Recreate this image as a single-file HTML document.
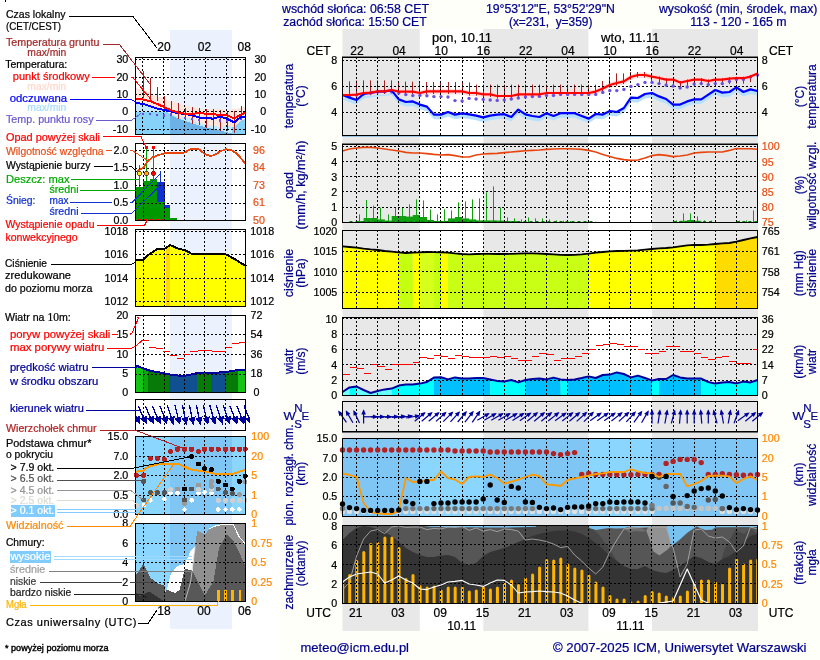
<!DOCTYPE html>
<html lang="pl"><head><meta charset="utf-8"><title>Meteogram UM</title>
<style>
html,body{margin:0;padding:0;background:#fffffa;}
body{width:820px;height:660px;overflow:hidden;}
svg{display:block;font-family:'Liberation Sans', sans-serif;}
text{stroke-width:0.22px;}
</style></head><body>
<svg width="820" height="660" viewBox="0 0 820 660">
<rect x="0" y="0" width="820" height="660" fill="#fffffa"/>
<rect x="342.5" y="29" width="77.4" height="602" fill="#e8e8e8" />
<rect x="483.2" y="29" width="105.5" height="602" fill="#e8e8e8" />
<rect x="652" y="29" width="106" height="602" fill="#e8e8e8" />
<rect x="419.9" y="29" width="63.3" height="602" fill="#ffffff" />
<rect x="588.7" y="29" width="63.3" height="602" fill="#ffffff" />
<text x="355.5" y="13.4" font-size="12" fill="#00008b" stroke="#00008b" text-anchor="middle" textLength="147" lengthAdjust="spacingAndGlyphs" >wschód słońca: 06:58 CET</text>
<text x="355" y="26.4" font-size="12" fill="#00008b" stroke="#00008b" text-anchor="middle" textLength="143.5" lengthAdjust="spacingAndGlyphs" >zachód słońca: 15:50 CET</text>
<text x="550.4" y="13.4" font-size="12" fill="#00008b" stroke="#00008b" text-anchor="middle" textLength="129" lengthAdjust="spacingAndGlyphs" >19°53'12"E, 53°52'29"N</text>
<text x="550.7" y="26.4" font-size="12" fill="#00008b" stroke="#00008b" text-anchor="middle" textLength="83.5" lengthAdjust="spacingAndGlyphs" xml:space="preserve">(x=231,  y=359)</text>
<text x="738.2" y="13.4" font-size="12" fill="#00008b" stroke="#00008b" text-anchor="middle" textLength="158.5" lengthAdjust="spacingAndGlyphs" >wysokość (min, środek, max)</text>
<text x="738.4" y="26.4" font-size="12" fill="#00008b" stroke="#00008b" text-anchor="middle" textLength="96.5" lengthAdjust="spacingAndGlyphs" >113 - 120 - 165 m</text>
<text x="462" y="42" font-size="12" fill="#000" stroke="#000" text-anchor="middle" textLength="60" lengthAdjust="spacingAndGlyphs" >pon, 10.11</text>
<text x="630.3" y="42" font-size="12" fill="#000" stroke="#000" text-anchor="middle" textLength="58.5" lengthAdjust="spacingAndGlyphs" >wto, 11.11</text>
<text x="356.9" y="55" font-size="12" fill="#000" stroke="#000" text-anchor="middle" >22</text>
<text x="399.1" y="55" font-size="12" fill="#000" stroke="#000" text-anchor="middle" >04</text>
<text x="441.3" y="55" font-size="12" fill="#000" stroke="#000" text-anchor="middle" >10</text>
<text x="483.5" y="55" font-size="12" fill="#000" stroke="#000" text-anchor="middle" >16</text>
<text x="525.7" y="55" font-size="12" fill="#000" stroke="#000" text-anchor="middle" >22</text>
<text x="567.9" y="55" font-size="12" fill="#000" stroke="#000" text-anchor="middle" >04</text>
<text x="610.1" y="55" font-size="12" fill="#000" stroke="#000" text-anchor="middle" >10</text>
<text x="652.3" y="55" font-size="12" fill="#000" stroke="#000" text-anchor="middle" >16</text>
<text x="694.5" y="55" font-size="12" fill="#000" stroke="#000" text-anchor="middle" >22</text>
<text x="736.7" y="55" font-size="12" fill="#000" stroke="#000" text-anchor="middle" >04</text>
<text x="355.8" y="617" font-size="12" fill="#000" stroke="#000" text-anchor="middle" >21</text>
<text x="398" y="617" font-size="12" fill="#000" stroke="#000" text-anchor="middle" >03</text>
<text x="440.2" y="617" font-size="12" fill="#000" stroke="#000" text-anchor="middle" >09</text>
<text x="482.4" y="617" font-size="12" fill="#000" stroke="#000" text-anchor="middle" >15</text>
<text x="524.6" y="617" font-size="12" fill="#000" stroke="#000" text-anchor="middle" >21</text>
<text x="566.8" y="617" font-size="12" fill="#000" stroke="#000" text-anchor="middle" >03</text>
<text x="609" y="617" font-size="12" fill="#000" stroke="#000" text-anchor="middle" >09</text>
<text x="651.2" y="617" font-size="12" fill="#000" stroke="#000" text-anchor="middle" >15</text>
<text x="693.4" y="617" font-size="12" fill="#000" stroke="#000" text-anchor="middle" >21</text>
<text x="735.6" y="617" font-size="12" fill="#000" stroke="#000" text-anchor="middle" >03</text>
<text x="306.5" y="55" font-size="12" fill="#000" stroke="#000" text-anchor="start" >CET</text>
<text x="769" y="55" font-size="12" fill="#000" stroke="#000" text-anchor="start" >CET</text>
<text x="306.3" y="617" font-size="12" fill="#000" stroke="#000" text-anchor="start" >UTC</text>
<text x="768.8" y="617" font-size="12" fill="#000" stroke="#000" text-anchor="start" >UTC</text>
<text x="461.7" y="630" font-size="12" fill="#000" stroke="#000" text-anchor="middle" >10.11</text>
<text x="630.4" y="630" font-size="12" fill="#000" stroke="#000" text-anchor="middle" >11.11</text>
<text x="300.5" y="652" font-size="13" fill="#00008b" stroke="#00008b" text-anchor="start" textLength="108.5" lengthAdjust="spacingAndGlyphs" >meteo@icm.edu.pl</text>
<text x="553" y="652" font-size="13" fill="#00008b" stroke="#00008b" text-anchor="start" textLength="253.5" lengthAdjust="spacingAndGlyphs" >© 2007-2025 ICM, Uniwersytet Warszawski</text>
<polygon points="342.5,93.8 349.5,96.4 356.6,98.8 363.6,92.8 370.6,91.8 377.7,90.4 384.7,90.2 391.7,89.2 398.8,98.2 405.8,100.8 412.8,100.2 419.9,103.4 426.9,105.4 433.9,113.4 441,113.4 448,110.8 455,113.4 462.1,112.2 469.1,113.2 476.1,114.4 483.2,116.2 490.2,114.4 497.2,113.4 504.3,113 511.3,115.8 518.3,108.4 525.4,113.2 532.4,114.8 539.4,115.8 546.5,112 553.5,114.8 560.6,112 567.6,112 574.6,112 581.7,114.8 588.7,117.4 595.7,112.8 602.8,113.4 609.8,109.8 616.8,110.8 623.9,106.8 630.9,96.4 637.9,96.8 645,92.8 652,91.8 659,95.2 666.1,97.8 673.1,103.4 680.1,103.4 687.2,100.2 694.2,98.2 701.2,98.2 708.3,93.4 715.3,88.8 722.3,91.4 729.4,90.8 736.4,86.2 743.4,90.8 750.5,88.2 757.5,89.8 757.5,95.6 750.5,94 743.4,96.6 736.4,92 729.4,96.6 722.3,97.2 715.3,94.6 708.3,99.2 701.2,104 694.2,104 687.2,106 680.1,109.2 673.1,109.2 666.1,103.6 659,101 652,97.6 645,98.6 637.9,102.6 630.9,102.2 623.9,112.6 616.8,116.6 609.8,115.6 602.8,119.2 595.7,118.6 588.7,123.2 581.7,120.6 574.6,117.8 567.6,117.8 560.6,117.8 553.5,120.6 546.5,117.8 539.4,121.6 532.4,120.6 525.4,119 518.3,114.2 511.3,121.6 504.3,118.8 497.2,119.2 490.2,120.2 483.2,122 476.1,120.2 469.1,119 462.1,118 455,119.2 448,116.6 441,119.2 433.9,119.2 426.9,111.2 419.9,109.2 412.8,106 405.8,106.6 398.8,104 391.7,95 384.7,96 377.7,96.2 370.6,97.6 363.6,98.6 356.6,104.6 349.5,102.2 342.5,99.6" fill="#b6e0ff" />
<polygon points="342.5,92.6 349.5,92.6 356.6,92.2 363.6,90.6 370.6,90.2 377.7,89 384.7,89 391.7,87.6 398.8,89.2 405.8,89.2 412.8,89.2 419.9,90.6 426.9,89 433.9,89 441,89 448,89 455,89 462.1,89 469.1,90.6 476.1,90.6 483.2,92 490.2,92 497.2,93.6 504.3,93.6 511.3,93.6 518.3,92 525.4,92 532.4,92 539.4,92 546.5,90.6 553.5,90.6 560.6,90.6 567.6,90.6 574.6,90.6 581.7,90.6 588.7,90.6 595.7,89.2 602.8,86 609.8,82.6 616.8,80.6 623.9,79 630.9,74.6 637.9,72.6 645,72.6 652,74.2 659,75.6 666.1,77.2 673.1,77.2 680.1,80.2 687.2,78.6 694.2,77.2 701.2,77.2 708.3,78.6 715.3,77.2 722.3,77.2 729.4,76.2 736.4,75.8 743.4,75.8 750.5,74.2 757.5,71.2 757.5,76.6 750.5,79.6 743.4,81.2 736.4,81.2 729.4,81.6 722.3,82.6 715.3,82.6 708.3,84 701.2,82.6 694.2,82.6 687.2,84 680.1,85.6 673.1,82.6 666.1,82.6 659,81 652,79.6 645,78 637.9,78 630.9,80 623.9,84.4 616.8,86 609.8,88 602.8,91.4 595.7,94.6 588.7,96 581.7,96 574.6,96 567.6,96 560.6,96 553.5,96 546.5,96 539.4,97.4 532.4,97.4 525.4,97.4 518.3,97.4 511.3,99 504.3,99 497.2,99 490.2,97.4 483.2,97.4 476.1,96 469.1,96 462.1,94.4 455,94.4 448,94.4 441,94.4 433.9,94.4 426.9,94.4 419.9,96 412.8,94.6 405.8,94.6 398.8,94.6 391.7,93 384.7,94.4 377.7,94.4 370.6,95.6 363.6,96 356.6,97.6 349.5,98 342.5,98" fill="#ffdcdc" />
<path d="M349.5 81.4V97.6M356.5 80.6V97.2M363.5 80.4V95.6M370.5 80.4V95.2M377.5 80.4V94M384.5 80.4V94M391.5 80.4V92.6M398.5 81V94.2M405.5 81.6V94.2M412.5 81.6V94.2M419.5 82V95.6M426.5 82V94M433.5 82V94M440.5 82V94M448.5 82V94M455.5 82V94M462.5 82V94M469.5 82.4V95.6M476.5 84.6V95.6M483.5 84.6V97M490.5 84.6V97M497.5 84.6V98.6M504.5 84.6V98.6M511.5 84.6V98.6M518.5 84.6V97M525.5 84.6V97M532.5 84.6V97M539.5 84.6V97M546.5 84.6V95.6M553.5 84.6V95.6M560.5 84.6V95.6M567.5 84.6V95.6M574.5 84.6V95.6M581.5 84.6V95.6M588.5 84.6V95.6M595.5 84.6V94.2M602.5 81V91M609.5 76.6V87.6M616.5 73.4V85.6M623.5 73.4V84M630.5 72V79.6M637.5 72V77.6M644.5 72V77.6M651.5 75.1V82.1M659.5 76.5V83.5M666.5 78.1V85.1M673.5 78.1V85.1M680.5 81.1V88.1M687.5 79.5V86.5M694.5 78.1V85.1M701.5 78.1V85.1M708.5 79.5V86.5M715.5 78.1V85.1M722.5 78.1V85.1M729.5 77.1V84.1M736.5 76.7V83.7M743.5 76.7V83.7M750.5 75.1V82.1" stroke="#a52020" stroke-width="1" fill="none"/>
<path d="M356.5 57V135M377.5 57V135M398.5 57V135M419.5 57V135M440.5 57V135M462.5 57V135M483.5 57V135M504.5 57V135M525.5 57V135M546.5 57V135M567.5 57V135M588.5 57V135M609.5 57V135M630.5 57V135M651.5 57V135M673.5 57V135M694.5 57V135M715.5 57V135M736.5 57V135M342 60.5H757M342 86.5H757M342 112.5H757" stroke="#000" stroke-width="1" stroke-dasharray="2 2" fill="none" shape-rendering="crispEdges"/>
<circle cx="349.5" cy="96" r="1.7" fill="#6a4fe0"/>
<circle cx="356.6" cy="95" r="1.7" fill="#6a4fe0"/>
<circle cx="363.6" cy="94" r="1.7" fill="#6a4fe0"/>
<circle cx="370.6" cy="93" r="1.7" fill="#6a4fe0"/>
<circle cx="377.7" cy="92" r="1.7" fill="#6a4fe0"/>
<circle cx="384.7" cy="91.6" r="1.7" fill="#6a4fe0"/>
<circle cx="391.7" cy="92" r="1.7" fill="#6a4fe0"/>
<circle cx="398.8" cy="93" r="1.7" fill="#6a4fe0"/>
<circle cx="405.8" cy="94.6" r="1.7" fill="#6a4fe0"/>
<circle cx="412.8" cy="95.6" r="1.7" fill="#6a4fe0"/>
<circle cx="419.9" cy="95.4" r="1.7" fill="#6a4fe0"/>
<circle cx="426.9" cy="95.8" r="1.7" fill="#6a4fe0"/>
<circle cx="433.9" cy="96.6" r="1.7" fill="#6a4fe0"/>
<circle cx="441" cy="96.6" r="1.7" fill="#6a4fe0"/>
<circle cx="448" cy="97" r="1.7" fill="#6a4fe0"/>
<circle cx="455" cy="100.6" r="1.7" fill="#6a4fe0"/>
<circle cx="462.1" cy="101" r="1.7" fill="#6a4fe0"/>
<circle cx="469.1" cy="98.4" r="1.7" fill="#6a4fe0"/>
<circle cx="476.1" cy="99" r="1.7" fill="#6a4fe0"/>
<circle cx="483.2" cy="99.4" r="1.7" fill="#6a4fe0"/>
<circle cx="490.2" cy="100" r="1.7" fill="#6a4fe0"/>
<circle cx="497.2" cy="100.4" r="1.7" fill="#6a4fe0"/>
<circle cx="504.3" cy="100" r="1.7" fill="#6a4fe0"/>
<circle cx="511.3" cy="99" r="1.7" fill="#6a4fe0"/>
<circle cx="518.3" cy="98" r="1.7" fill="#6a4fe0"/>
<circle cx="525.4" cy="97" r="1.7" fill="#6a4fe0"/>
<circle cx="532.4" cy="96.6" r="1.7" fill="#6a4fe0"/>
<circle cx="539.4" cy="96.4" r="1.7" fill="#6a4fe0"/>
<circle cx="546.5" cy="95.4" r="1.7" fill="#6a4fe0"/>
<circle cx="553.5" cy="95.4" r="1.7" fill="#6a4fe0"/>
<circle cx="560.6" cy="94.4" r="1.7" fill="#6a4fe0"/>
<circle cx="567.6" cy="94.4" r="1.7" fill="#6a4fe0"/>
<circle cx="574.6" cy="94.4" r="1.7" fill="#6a4fe0"/>
<circle cx="581.7" cy="94.4" r="1.7" fill="#6a4fe0"/>
<circle cx="588.7" cy="94.4" r="1.7" fill="#6a4fe0"/>
<circle cx="595.7" cy="94.4" r="1.7" fill="#6a4fe0"/>
<circle cx="602.8" cy="92.4" r="1.7" fill="#6a4fe0"/>
<circle cx="609.8" cy="90.6" r="1.7" fill="#6a4fe0"/>
<circle cx="616.8" cy="90.6" r="1.7" fill="#6a4fe0"/>
<circle cx="623.9" cy="89.4" r="1.7" fill="#6a4fe0"/>
<circle cx="630.9" cy="86.4" r="1.7" fill="#6a4fe0"/>
<circle cx="637.9" cy="84.6" r="1.7" fill="#6a4fe0"/>
<circle cx="645" cy="82.4" r="1.7" fill="#6a4fe0"/>
<circle cx="652" cy="82.4" r="1.7" fill="#6a4fe0"/>
<circle cx="659" cy="83.6" r="1.7" fill="#6a4fe0"/>
<circle cx="666.1" cy="85" r="1.7" fill="#6a4fe0"/>
<circle cx="673.1" cy="86" r="1.7" fill="#6a4fe0"/>
<circle cx="680.1" cy="88" r="1.7" fill="#6a4fe0"/>
<circle cx="687.2" cy="87" r="1.7" fill="#6a4fe0"/>
<circle cx="694.2" cy="84" r="1.7" fill="#6a4fe0"/>
<circle cx="701.2" cy="83.6" r="1.7" fill="#6a4fe0"/>
<circle cx="708.3" cy="84.6" r="1.7" fill="#6a4fe0"/>
<circle cx="715.3" cy="83.6" r="1.7" fill="#6a4fe0"/>
<circle cx="722.3" cy="83.6" r="1.7" fill="#6a4fe0"/>
<circle cx="729.4" cy="81.4" r="1.7" fill="#6a4fe0"/>
<circle cx="736.4" cy="79.4" r="1.7" fill="#6a4fe0"/>
<circle cx="743.4" cy="79.4" r="1.7" fill="#6a4fe0"/>
<circle cx="750.5" cy="77" r="1.7" fill="#6a4fe0"/>
<circle cx="757.5" cy="75" r="1.7" fill="#6a4fe0"/>
<polyline points="342.5,95 349.5,97.6 356.6,100 363.6,94 370.6,93 377.7,91.6 384.7,91.4 391.7,90.4 398.8,99.4 405.8,102 412.8,101.4 419.9,104.6 426.9,106.6 433.9,114.6 441,114.6 448,112 455,114.6 462.1,113.4 469.1,114.4 476.1,115.6 483.2,117.4 490.2,115.6 497.2,114.6 504.3,114.2 511.3,117 518.3,109.6 525.4,114.4 532.4,116 539.4,117 546.5,113.2 553.5,116 560.6,113.2 567.6,113.2 574.6,113.2 581.7,116 588.7,118.6 595.7,114 602.8,114.6 609.8,111 616.8,112 623.9,108 630.9,97.6 637.9,98 645,94 652,93 659,96.4 666.1,99 673.1,104.6 680.1,104.6 687.2,101.4 694.2,99.4 701.2,99.4 708.3,94.6 715.3,90 722.3,92.6 729.4,92 736.4,87.4 743.4,92 750.5,89.4 757.5,91" fill="none" stroke="#0000ff" stroke-width="2.2" stroke-linejoin="round" />
<polyline points="342.5,95 349.5,95 356.6,94.6 363.6,93 370.6,92.6 377.7,91.4 384.7,91.4 391.7,90 398.8,91.6 405.8,91.6 412.8,91.6 419.9,93 426.9,91.4 433.9,91.4 441,91.4 448,91.4 455,91.4 462.1,91.4 469.1,93 476.1,93 483.2,94.4 490.2,94.4 497.2,96 504.3,96 511.3,96 518.3,94.4 525.4,94.4 532.4,94.4 539.4,94.4 546.5,93 553.5,93 560.6,93 567.6,93 574.6,93 581.7,93 588.7,93 595.7,91.6 602.8,88.4 609.8,85 616.8,83 623.9,81.4 630.9,77 637.9,75 645,75 652,76.6 659,78 666.1,79.6 673.1,79.6 680.1,82.6 687.2,81 694.2,79.6 701.2,79.6 708.3,81 715.3,79.6 722.3,79.6 729.4,78.6 736.4,78.2 743.4,78.2 750.5,76.6 757.5,73.6" fill="none" stroke="#ff0000" stroke-width="2.2" stroke-linejoin="round" />
<path d="M342 56.5H758" stroke="#7a7a7a" stroke-width="1" fill="none" shape-rendering="crispEdges"/>
<rect x="342.5" y="57.5" width="415" height="78" fill="none" stroke="#000" stroke-width="1" shape-rendering="crispEdges"/>
<line x1="342" y1="136.5" x2="758" y2="136.5" stroke="#9ec4e4" stroke-width="1" shape-rendering="crispEdges"/>
<text x="337.3" y="63.9" font-size="10.7" fill="#000" stroke="#000" text-anchor="end" >8</text>
<text x="761.8" y="64.1" font-size="10.7" fill="#000" stroke="#000" text-anchor="start" >8</text>
<text x="337.3" y="90.1" font-size="10.7" fill="#000" stroke="#000" text-anchor="end" >6</text>
<text x="761.8" y="90.3" font-size="10.7" fill="#000" stroke="#000" text-anchor="start" >6</text>
<text x="337.3" y="116.2" font-size="10.7" fill="#000" stroke="#000" text-anchor="end" >4</text>
<text x="761.8" y="116.4" font-size="10.7" fill="#000" stroke="#000" text-anchor="start" >4</text>
<text transform="translate(293,96) rotate(-90)" font-size="12" fill="#00008b" stroke="#00008b" text-anchor="middle" textLength="64.5" lengthAdjust="spacingAndGlyphs">temperatura</text>
<text transform="translate(305,96) rotate(-90)" font-size="12" fill="#00008b" stroke="#00008b" text-anchor="middle">(°C)</text>
<text transform="translate(804,96.5) rotate(-90)" font-size="12" fill="#00008b" stroke="#00008b" text-anchor="middle">(°C)</text>
<text transform="translate(816,96.5) rotate(-90)" font-size="12" fill="#00008b" stroke="#00008b" text-anchor="middle" textLength="64.5" lengthAdjust="spacingAndGlyphs">temperatura</text>
<rect x="356.6" y="221" width="7.2" height="1" fill="#10a010" />
<rect x="363.6" y="218" width="7.2" height="4" fill="#10a010" />
<rect x="370.6" y="218" width="7.2" height="4" fill="#10a010" />
<rect x="377.7" y="219.4" width="7.2" height="2.6" fill="#10a010" />
<rect x="384.7" y="220.6" width="7.2" height="1.4" fill="#10a010" />
<rect x="391.7" y="216" width="7.2" height="6" fill="#10a010" />
<rect x="398.8" y="216" width="7.2" height="6" fill="#10a010" />
<rect x="405.8" y="216.6" width="7.2" height="5.4" fill="#10a010" />
<rect x="412.8" y="215" width="7.2" height="7" fill="#10a010" />
<rect x="419.9" y="217" width="7.2" height="5" fill="#10a010" />
<rect x="426.9" y="220" width="7.2" height="2" fill="#10a010" />
<rect x="433.9" y="221" width="7.2" height="1" fill="#10a010" />
<rect x="441" y="221" width="7.2" height="1" fill="#10a010" />
<rect x="448" y="218.4" width="7.2" height="3.6" fill="#10a010" />
<rect x="455" y="217" width="7.2" height="5" fill="#10a010" />
<rect x="462.1" y="218.4" width="7.2" height="3.6" fill="#10a010" />
<rect x="469.1" y="219.4" width="7.2" height="2.6" fill="#10a010" />
<rect x="476.1" y="220.4" width="7.2" height="1.6" fill="#10a010" />
<rect x="483.2" y="220.4" width="7.2" height="1.6" fill="#10a010" />
<rect x="490.2" y="220.4" width="7.2" height="1.6" fill="#10a010" />
<rect x="497.2" y="220.6" width="7.2" height="1.4" fill="#10a010" />
<rect x="504.3" y="221" width="7.2" height="1" fill="#10a010" />
<rect x="511.3" y="221" width="7.2" height="1" fill="#10a010" />
<rect x="680.1" y="220.8" width="7.2" height="1.2" fill="#10a010" />
<rect x="687.2" y="220" width="7.2" height="2" fill="#10a010" />
<rect x="694.2" y="220.8" width="7.2" height="1.2" fill="#10a010" />
<path d="M359.5 214.4V222M366.5 200V222M373.5 205.6V222M380.5 207.6V222M388.5 214.4V222M395.5 207.6V222M402.5 207V222M409.5 204.4V222M416.5 199.4V222M423.5 200.4V222M430.5 209.4V222M437.5 214.4V222M444.5 209.4V222M451.5 210.4V222M458.5 202.4V222M465.5 201.4V222M472.5 199.4V222M479.5 198.4V222M486.5 192.4V222M493.5 186.4V222M500.5 207.4V222M507.5 217.4V222M514.5 218.4V222M521.5 219.4V222M528.5 217.4V222M535.5 218.4V222M542.5 218.4V222M549.5 219.4V222M556.5 220.4V222M563.5 220.8V222M570.5 221V222M676.5 220.4V222M683.5 213.4V222M690.5 213.4V222M697.5 216.4V222M704.5 220.4V222M711.5 220.6V222M739.5 220.6V222M746.5 220.4V222M753.5 210.4V222" stroke="#10a010" stroke-width="1" fill="none"/>
<path d="M356.5 144V222M377.5 144V222M398.5 144V222M419.5 144V222M440.5 144V222M462.5 144V222M483.5 144V222M504.5 144V222M525.5 144V222M546.5 144V222M567.5 144V222M588.5 144V222M609.5 144V222M630.5 144V222M651.5 144V222M673.5 144V222M694.5 144V222M715.5 144V222M736.5 144V222M342 146.5H757M342 161.5H757M342 176.5H757M342 191.5H757M342 207.5H757" stroke="#000" stroke-width="1" stroke-dasharray="2 2" fill="none" shape-rendering="crispEdges"/>
<line x1="349.5" y1="221.5" x2="595.7" y2="221.5" stroke="#0a7a0a" stroke-width="1" stroke-dasharray="3 3"/>
<line x1="673.1" y1="221.5" x2="715.3" y2="221.5" stroke="#0a7a0a" stroke-width="1" stroke-dasharray="3 3"/>
<line x1="736.4" y1="221.5" x2="757.5" y2="221.5" stroke="#0a7a0a" stroke-width="1" stroke-dasharray="3 3"/>
<polyline points="342.5,151 349.5,149 356.6,148 363.6,147.4 370.6,147.4 377.7,148 384.7,149 391.7,150 398.8,151 405.8,152.4 412.8,153 419.9,153 426.9,153.6 433.9,154.4 441,155 448,154.6 455,155.6 462.1,157 469.1,157 476.1,155 483.2,154 490.2,153.6 497.2,153.4 504.3,152.6 511.3,152 518.3,151.4 525.4,150.8 532.4,150.4 539.4,150 546.5,149.4 553.5,149 560.6,148.8 567.6,148.8 574.6,149 581.7,149.4 588.7,150.4 595.7,152 602.8,154.4 609.8,156.4 616.8,158.4 623.9,159.6 630.9,160.4 637.9,160 645,158 652,155.6 659,154.6 666.1,155.4 673.1,156.6 680.1,156 687.2,155 694.2,153 701.2,152.4 708.3,152 715.3,152 722.3,152 729.4,150.4 736.4,148.6 743.4,148.8 750.5,148.8 757.5,149.2" fill="none" stroke="#e8450e" stroke-width="1.6" stroke-linejoin="round" />
<path d="M342 143.5H758" stroke="#7a7a7a" stroke-width="1" fill="none" shape-rendering="crispEdges"/>
<rect x="342.5" y="144.5" width="415" height="78" fill="none" stroke="#000" stroke-width="1" shape-rendering="crispEdges"/>
<text x="337.3" y="150.3" font-size="10.7" fill="#000" stroke="#000" text-anchor="end" >5</text>
<text x="761.8" y="150.3" font-size="10.7" fill="#e8501a" stroke="#e8501a" text-anchor="start" >100</text>
<text x="337.3" y="165.5" font-size="10.7" fill="#000" stroke="#000" text-anchor="end" >4</text>
<text x="761.8" y="165.5" font-size="10.7" fill="#e8501a" stroke="#e8501a" text-anchor="start" >95</text>
<text x="337.3" y="180.7" font-size="10.7" fill="#000" stroke="#000" text-anchor="end" >3</text>
<text x="761.8" y="180.7" font-size="10.7" fill="#e8501a" stroke="#e8501a" text-anchor="start" >90</text>
<text x="337.3" y="195.9" font-size="10.7" fill="#000" stroke="#000" text-anchor="end" >2</text>
<text x="761.8" y="195.9" font-size="10.7" fill="#e8501a" stroke="#e8501a" text-anchor="start" >85</text>
<text x="337.3" y="211.1" font-size="10.7" fill="#000" stroke="#000" text-anchor="end" >1</text>
<text x="761.8" y="211.1" font-size="10.7" fill="#e8501a" stroke="#e8501a" text-anchor="start" >80</text>
<text x="337.3" y="226.3" font-size="10.7" fill="#000" stroke="#000" text-anchor="end" >0</text>
<text x="761.8" y="226.3" font-size="10.7" fill="#e8501a" stroke="#e8501a" text-anchor="start" >75</text>
<text transform="translate(293,185.5) rotate(-90)" font-size="12" fill="#00008b" stroke="#00008b" text-anchor="middle">opad</text>
<text transform="translate(305,185) rotate(-90)" font-size="12" fill="#00008b" stroke="#00008b" text-anchor="middle" textLength="89" lengthAdjust="spacingAndGlyphs">(mm/h, kg/m²/h)</text>
<text transform="translate(804,185) rotate(-90)" font-size="12" fill="#00008b" stroke="#00008b" text-anchor="middle">(%)</text>
<text transform="translate(816,185.5) rotate(-90)" font-size="12" fill="#00008b" stroke="#00008b" text-anchor="middle" textLength="88" lengthAdjust="spacingAndGlyphs">wilgotność wzgl.</text>
<polygon points="342.5,246.4 349.5,247 356.6,247.6 363.6,248.6 370.6,249.4 377.7,250 384.7,251 391.7,251.6 398.8,252.4 399.1,308 342.5,308" fill="#ffff00" />
<polygon points="398.8,252.4 405.8,253 412.8,252.6 413.1,308 398.8,308" fill="#c4ff10" />
<polygon points="412.8,252.6 419.9,252.4 420.2,308 412.8,308" fill="#ffff00" />
<polygon points="419.9,252.4 426.9,252 433.9,252.2 434.2,308 419.9,308" fill="#d6ff1c" />
<polygon points="433.9,252.2 441,252.4 441.3,308 433.9,308" fill="#c4ff10" />
<polygon points="441,252.4 448,252.6 448.3,308 441,308" fill="#ffff00" />
<polygon points="448,252.6 455,253.4 462.1,254 469.1,254.4 476.1,254 483.2,253.8 490.2,253.8 497.2,254 504.3,254 511.3,253.8 518.3,253.6 525.4,253.4 532.4,253.4 539.4,253.6 546.5,254 553.5,254.4 560.6,254.8 567.6,255 574.6,254.8 581.7,254.4 588.7,253.6 589,308 448,308" fill="#c8ff14" />
<polygon points="588.7,253.6 595.7,252.6 602.8,252 609.8,251.4 616.8,251 623.9,250.8 630.9,250.6 637.9,250.4 645,249.6 652,249 659,248.4 666.1,248 673.1,247.4 680.1,246.4 687.2,245.4 694.2,244.8 701.2,245 708.3,244.6 715.3,244 715.6,308 588.7,308" fill="#ffff00" />
<polygon points="715.3,244 722.3,243.4 729.4,243 736.4,241.6 743.4,240 750.5,238.4 757.5,237 757.5,308 715.3,308" fill="#ffdc00" />
<path d="M356.5 230V308M377.5 230V308M398.5 230V308M419.5 230V308M440.5 230V308M462.5 230V308M483.5 230V308M504.5 230V308M525.5 230V308M546.5 230V308M567.5 230V308M588.5 230V308M609.5 230V308M630.5 230V308M651.5 230V308M673.5 230V308M694.5 230V308M715.5 230V308M736.5 230V308M342 251.5H757M342 271.5H757M342 292.5H757" stroke="#000" stroke-width="1" stroke-dasharray="2 2" fill="none" shape-rendering="crispEdges"/>
<polyline points="342.5,246.4 349.5,247 356.6,247.6 363.6,248.6 370.6,249.4 377.7,250 384.7,251 391.7,251.6 398.8,252.4 405.8,253 412.8,252.6 419.9,252.4 426.9,252 433.9,252.2 441,252.4 448,252.6 455,253.4 462.1,254 469.1,254.4 476.1,254 483.2,253.8 490.2,253.8 497.2,254 504.3,254 511.3,253.8 518.3,253.6 525.4,253.4 532.4,253.4 539.4,253.6 546.5,254 553.5,254.4 560.6,254.8 567.6,255 574.6,254.8 581.7,254.4 588.7,253.6 595.7,252.6 602.8,252 609.8,251.4 616.8,251 623.9,250.8 630.9,250.6 637.9,250.4 645,249.6 652,249 659,248.4 666.1,248 673.1,247.4 680.1,246.4 687.2,245.4 694.2,244.8 701.2,245 708.3,244.6 715.3,244 722.3,243.4 729.4,243 736.4,241.6 743.4,240 750.5,238.4 757.5,237" fill="none" stroke="#000" stroke-width="1.8" stroke-linejoin="round" />
<rect x="342.5" y="230.5" width="415" height="78" fill="none" stroke="#000" stroke-width="1" shape-rendering="crispEdges"/>
<text x="337.3" y="235.1" font-size="10.7" fill="#000" stroke="#000" text-anchor="end" >1020</text>
<text x="761.8" y="235.1" font-size="10.7" fill="#000" stroke="#000" text-anchor="start" >765</text>
<text x="337.3" y="255.3" font-size="10.7" fill="#000" stroke="#000" text-anchor="end" >1015</text>
<text x="761.8" y="255.3" font-size="10.7" fill="#000" stroke="#000" text-anchor="start" >761</text>
<text x="337.3" y="275.5" font-size="10.7" fill="#000" stroke="#000" text-anchor="end" >1010</text>
<text x="761.8" y="275.5" font-size="10.7" fill="#000" stroke="#000" text-anchor="start" >758</text>
<text x="337.3" y="295.7" font-size="10.7" fill="#000" stroke="#000" text-anchor="end" >1005</text>
<text x="761.8" y="295.7" font-size="10.7" fill="#000" stroke="#000" text-anchor="start" >754</text>
<text transform="translate(293,273) rotate(-90)" font-size="12" fill="#00008b" stroke="#00008b" text-anchor="middle" textLength="48.5" lengthAdjust="spacingAndGlyphs">ciśnienie</text>
<text transform="translate(305,273) rotate(-90)" font-size="12" fill="#00008b" stroke="#00008b" text-anchor="middle">(hPa)</text>
<text transform="translate(802.5,273.3) rotate(-90)" font-size="12" fill="#00008b" stroke="#00008b" text-anchor="middle" textLength="46" lengthAdjust="spacingAndGlyphs">(mm Hg)</text>
<text transform="translate(816,273) rotate(-90)" font-size="12" fill="#00008b" stroke="#00008b" text-anchor="middle" textLength="48.5" lengthAdjust="spacingAndGlyphs">ciśnienie</text>
<polygon points="342.5,392 349.5,387.4 349.8,395 342.5,395" fill="#70ffff" />
<polygon points="349.5,387.4 356.6,386.6 356.9,395 349.5,395" fill="#00ffff" />
<polygon points="356.6,386.6 363.6,390 370.6,393 377.7,391 384.7,389.4 391.7,388.6 392,395 356.6,395" fill="#66ffff" />
<polygon points="391.7,388.6 398.8,385.6 405.8,384.6 412.8,384.4 419.9,383.6 426.9,382 433.9,377.6 434.2,395 391.7,395" fill="#00ffff" />
<polygon points="433.9,377.6 441,377.2 448,379.4 455,377.4 462.1,378.4 469.1,378.6 476.1,378 483.2,378 490.2,379.4 490.5,395 433.9,395" fill="#00bfff" />
<polygon points="490.2,379.4 497.2,381 504.3,381.4 511.3,380 518.3,382.4 525.4,380 525.7,395 490.2,395" fill="#00ffff" />
<polygon points="525.4,380 532.4,379 539.4,378.4 546.5,379.4 553.5,377.6 560.6,379.4 560.9,395 525.4,395" fill="#00bfff" />
<polygon points="560.6,379.4 567.6,380 567.9,395 560.6,395" fill="#00ffff" />
<polygon points="567.6,380 574.6,379.4 581.7,378 588.7,376.4 595.7,378 602.8,375 609.8,374.6 616.8,372.4 623.9,374 630.9,377.4 637.9,375.6 645,378 652,380.4 652.3,395 567.6,395" fill="#00bfff" />
<polygon points="652,380.4 659,379 659.3,395 652,395" fill="#00ffff" />
<polygon points="659,379 666.1,379 673.1,375 680.1,377.4 687.2,378.4 694.2,378.6 701.2,378.6 701.5,395 659,395" fill="#00bfff" />
<polygon points="701.2,378.6 708.3,382 715.3,383.6 722.3,382.6 729.4,382 736.4,383.4 743.4,381.6 750.5,382.4 757.5,380 757.5,395 701.2,395" fill="#00ffff" />
<path d="M356.5 317V395M377.5 317V395M398.5 317V395M419.5 317V395M440.5 317V395M462.5 317V395M483.5 317V395M504.5 317V395M525.5 317V395M546.5 317V395M567.5 317V395M588.5 317V395M609.5 317V395M630.5 317V395M651.5 317V395M673.5 317V395M694.5 317V395M715.5 317V395M736.5 317V395M342 318.5H757M342 334.5H757M342 349.5H757M342 364.5H757M342 380.5H757" stroke="#000" stroke-width="1" stroke-dasharray="2 2" fill="none" shape-rendering="crispEdges"/>
<path d="M342.5 374.5H349.5M349.5 367.5H356.6M356.6 368.5H363.6M363.6 373.5H370.6M370.6 364.5H377.7M377.7 366.5H384.7M384.7 369.5H391.7M391.7 364.5H398.8M398.8 364.5H405.8M405.8 364.5H412.8M412.8 362.5H419.9M419.9 357.5H426.9M426.9 358.5H433.9M433.9 355.5H441M441 356.5H448M448 358.5H455M455 355.5H462.1M462.1 356.5H469.1M469.1 357.5H476.1M476.1 357.5H483.2M483.2 357.5H490.2M490.2 356.5H497.2M497.2 357.5H504.3M504.3 356.5H511.3M511.3 358.5H518.3M518.3 360.5H525.4M525.4 360.5H532.4M532.4 356.5H539.4M539.4 353.5H546.5M546.5 354.5H553.5M553.5 360.5H560.6M560.6 358.5H567.6M567.6 358.5H574.6M574.6 356.5H581.7M581.7 353.5H588.7M588.7 349.5H595.7M595.7 345.5H602.8M602.8 344.5H609.8M609.8 343.5H616.8M616.8 344.5H623.9M623.9 346.5H630.9M630.9 346.5H637.9M637.9 349.5H645M645 353.5H652M652 353.5H659M659 351.5H666.1M666.1 346.5H673.1M673.1 346.5H680.1M680.1 351.5H687.2M687.2 351.5H694.2M694.2 353.5H701.2M701.2 357.5H708.3M708.3 359.5H715.3M715.3 357.5H722.3M722.3 356.5H729.4M729.4 361.5H736.4M736.4 363.5H743.4M743.4 363.5H750.5M752.5 349.5H757.5" stroke="#ff0000" stroke-width="1" fill="none" shape-rendering="crispEdges"/>
<polyline points="342.5,392 349.5,387.4 356.6,386.6 363.6,390 370.6,393 377.7,391 384.7,389.4 391.7,388.6 398.8,385.6 405.8,384.6 412.8,384.4 419.9,383.6 426.9,382 433.9,377.6 441,377.2 448,379.4 455,377.4 462.1,378.4 469.1,378.6 476.1,378 483.2,378 490.2,379.4 497.2,381 504.3,381.4 511.3,380 518.3,382.4 525.4,380 532.4,379 539.4,378.4 546.5,379.4 553.5,377.6 560.6,379.4 567.6,380 574.6,379.4 581.7,378 588.7,376.4 595.7,378 602.8,375 609.8,374.6 616.8,372.4 623.9,374 630.9,377.4 637.9,375.6 645,378 652,380.4 659,379 666.1,379 673.1,375 680.1,377.4 687.2,378.4 694.2,378.6 701.2,378.6 708.3,382 715.3,383.6 722.3,382.6 729.4,382 736.4,383.4 743.4,381.6 750.5,382.4 757.5,380" fill="none" stroke="#00009c" stroke-width="2" stroke-linejoin="round" />
<rect x="342.5" y="317.5" width="415" height="78" fill="none" stroke="#000" stroke-width="1" shape-rendering="crispEdges"/>
<text x="337.3" y="323.1" font-size="10.7" fill="#000" stroke="#000" text-anchor="end" >10</text>
<text x="761.8" y="323.1" font-size="10.7" fill="#000" stroke="#000" text-anchor="start" >36</text>
<text x="337.3" y="338.2" font-size="10.7" fill="#000" stroke="#000" text-anchor="end" >8</text>
<text x="761.8" y="338.2" font-size="10.7" fill="#000" stroke="#000" text-anchor="start" >29</text>
<text x="337.3" y="353.4" font-size="10.7" fill="#000" stroke="#000" text-anchor="end" >6</text>
<text x="761.8" y="353.4" font-size="10.7" fill="#000" stroke="#000" text-anchor="start" >22</text>
<text x="337.3" y="368.6" font-size="10.7" fill="#000" stroke="#000" text-anchor="end" >4</text>
<text x="761.8" y="368.6" font-size="10.7" fill="#000" stroke="#000" text-anchor="start" >14</text>
<text x="337.3" y="383.7" font-size="10.7" fill="#000" stroke="#000" text-anchor="end" >2</text>
<text x="761.8" y="383.7" font-size="10.7" fill="#000" stroke="#000" text-anchor="start" >7</text>
<text x="337.3" y="398.9" font-size="10.7" fill="#000" stroke="#000" text-anchor="end" >0</text>
<text x="761.8" y="398.9" font-size="10.7" fill="#000" stroke="#000" text-anchor="start" >0</text>
<text transform="translate(293,361.3) rotate(-90)" font-size="12" fill="#00008b" stroke="#00008b" text-anchor="middle">wiatr</text>
<text transform="translate(305,361.2) rotate(-90)" font-size="12" fill="#00008b" stroke="#00008b" text-anchor="middle">(m/s)</text>
<text transform="translate(802.5,361.7) rotate(-90)" font-size="12" fill="#00008b" stroke="#00008b" text-anchor="middle">(km/h)</text>
<text transform="translate(816,361.7) rotate(-90)" font-size="12" fill="#00008b" stroke="#00008b" text-anchor="middle">wiatr</text>
<path d="M356.5 401V431M377.5 401V431M398.5 401V431M419.5 401V431M440.5 401V431M462.5 401V431M483.5 401V431M504.5 401V431M525.5 401V431M546.5 401V431M567.5 401V431M588.5 401V431M609.5 401V431M630.5 401V431M651.5 401V431M673.5 401V431M694.5 401V431M715.5 401V431M736.5 401V431" stroke="#000" stroke-width="1" stroke-dasharray="2 2" fill="none" shape-rendering="crispEdges"/>
<defs><g id="arw"><path d="M0 6.8V-6" stroke="#00009c" stroke-width="1.2" fill="none"/><path d="M0 -7.6L-2.3 -2.3L2.3 -2.3Z" fill="#00009c"/></g></defs>
<use href="#arw" transform="translate(342.5,416.8) rotate(-35)"/>
<use href="#arw" transform="translate(349.5,416.8) rotate(-30)"/>
<use href="#arw" transform="translate(356.6,416.8) rotate(-25)"/>
<use href="#arw" transform="translate(363.6,416.8) rotate(0)"/>
<use href="#arw" transform="translate(370.6,416.8) rotate(90)"/>
<use href="#arw" transform="translate(377.7,416.8) rotate(90)"/>
<use href="#arw" transform="translate(384.7,416.8) rotate(90)"/>
<use href="#arw" transform="translate(391.7,416.8) rotate(88)"/>
<use href="#arw" transform="translate(398.8,416.8) rotate(85)"/>
<use href="#arw" transform="translate(405.8,416.8) rotate(82)"/>
<use href="#arw" transform="translate(412.8,416.8) rotate(80)"/>
<use href="#arw" transform="translate(419.9,416.8) rotate(50)"/>
<use href="#arw" transform="translate(426.9,416.8) rotate(50)"/>
<use href="#arw" transform="translate(433.9,416.8) rotate(50)"/>
<use href="#arw" transform="translate(441,416.8) rotate(48)"/>
<use href="#arw" transform="translate(448,416.8) rotate(45)"/>
<use href="#arw" transform="translate(455,416.8) rotate(42)"/>
<use href="#arw" transform="translate(462.1,416.8) rotate(40)"/>
<use href="#arw" transform="translate(469.1,416.8) rotate(38)"/>
<use href="#arw" transform="translate(476.1,416.8) rotate(35)"/>
<use href="#arw" transform="translate(483.2,416.8) rotate(60)"/>
<use href="#arw" transform="translate(490.2,416.8) rotate(60)"/>
<use href="#arw" transform="translate(497.2,416.8) rotate(60)"/>
<use href="#arw" transform="translate(504.3,416.8) rotate(60)"/>
<use href="#arw" transform="translate(511.3,416.8) rotate(60)"/>
<use href="#arw" transform="translate(518.3,416.8) rotate(58)"/>
<use href="#arw" transform="translate(525.4,416.8) rotate(55)"/>
<use href="#arw" transform="translate(532.4,416.8) rotate(50)"/>
<use href="#arw" transform="translate(539.4,416.8) rotate(50)"/>
<use href="#arw" transform="translate(546.5,416.8) rotate(50)"/>
<use href="#arw" transform="translate(553.5,416.8) rotate(52)"/>
<use href="#arw" transform="translate(560.6,416.8) rotate(55)"/>
<use href="#arw" transform="translate(567.6,416.8) rotate(52)"/>
<use href="#arw" transform="translate(574.6,416.8) rotate(50)"/>
<use href="#arw" transform="translate(581.7,416.8) rotate(48)"/>
<use href="#arw" transform="translate(588.7,416.8) rotate(45)"/>
<use href="#arw" transform="translate(595.7,416.8) rotate(55)"/>
<use href="#arw" transform="translate(602.8,416.8) rotate(55)"/>
<use href="#arw" transform="translate(609.8,416.8) rotate(55)"/>
<use href="#arw" transform="translate(616.8,416.8) rotate(52)"/>
<use href="#arw" transform="translate(623.9,416.8) rotate(48)"/>
<use href="#arw" transform="translate(630.9,416.8) rotate(42)"/>
<use href="#arw" transform="translate(637.9,416.8) rotate(36)"/>
<use href="#arw" transform="translate(645,416.8) rotate(30)"/>
<use href="#arw" transform="translate(652,416.8) rotate(0)"/>
<use href="#arw" transform="translate(659,416.8) rotate(8)"/>
<use href="#arw" transform="translate(666.1,416.8) rotate(10)"/>
<use href="#arw" transform="translate(673.1,416.8) rotate(15)"/>
<use href="#arw" transform="translate(680.1,416.8) rotate(5)"/>
<use href="#arw" transform="translate(687.2,416.8) rotate(0)"/>
<use href="#arw" transform="translate(694.2,416.8) rotate(0)"/>
<use href="#arw" transform="translate(701.2,416.8) rotate(-5)"/>
<use href="#arw" transform="translate(708.3,416.8) rotate(0)"/>
<use href="#arw" transform="translate(715.3,416.8) rotate(-15)"/>
<use href="#arw" transform="translate(722.3,416.8) rotate(-10)"/>
<use href="#arw" transform="translate(729.4,416.8) rotate(10)"/>
<use href="#arw" transform="translate(736.4,416.8) rotate(20)"/>
<use href="#arw" transform="translate(743.4,416.8) rotate(55)"/>
<use href="#arw" transform="translate(750.5,416.8) rotate(50)"/>
<use href="#arw" transform="translate(757.5,416.8) rotate(50)"/>
<rect x="342.5" y="401.5" width="415" height="30" fill="none" stroke="#000" stroke-width="1" shape-rendering="crispEdges"/>
<line x1="342" y1="432.5" x2="758" y2="432.5" stroke="#707070" stroke-width="1" shape-rendering="crispEdges"/>
<text x="294.2" y="411.5" font-size="11.5" fill="#00008b" stroke="#00008b" text-anchor="start" >N</text>
<text x="283.6" y="419.6" font-size="11.5" fill="#00008b" stroke="#00008b" text-anchor="start" textLength="12" lengthAdjust="spacingAndGlyphs" >W</text>
<text x="301.6" y="419.6" font-size="11.5" fill="#00008b" stroke="#00008b" text-anchor="start" >E</text>
<text x="294.2" y="427.6" font-size="11.5" fill="#00008b" stroke="#00008b" text-anchor="start" >S</text>
<text x="803.2" y="411.5" font-size="11.5" fill="#00008b" stroke="#00008b" text-anchor="start" >N</text>
<text x="792.6" y="419.6" font-size="11.5" fill="#00008b" stroke="#00008b" text-anchor="start" textLength="12" lengthAdjust="spacingAndGlyphs" >W</text>
<text x="810.6" y="419.6" font-size="11.5" fill="#00008b" stroke="#00008b" text-anchor="start" >E</text>
<text x="803.2" y="427.6" font-size="11.5" fill="#00008b" stroke="#00008b" text-anchor="start" >S</text>
<rect x="343" y="438" width="414" height="78" fill="#8ad6ff" />
<rect x="342.5" y="438" width="77.4" height="78" fill="#80c6f4" />
<rect x="483.2" y="438" width="105.5" height="78" fill="#80c6f4" />
<rect x="652" y="438" width="105.5" height="78" fill="#80c6f4" />
<path d="M356.5 438V516M377.5 438V516M398.5 438V516M419.5 438V516M440.5 438V516M462.5 438V516M483.5 438V516M504.5 438V516M525.5 438V516M546.5 438V516M567.5 438V516M588.5 438V516M609.5 438V516M630.5 438V516M651.5 438V516M673.5 438V516M694.5 438V516M715.5 438V516M736.5 438V516M342 457.5H757M342 477.5H757M342 496.5H757" stroke="#000" stroke-width="1" stroke-dasharray="2 2" fill="none" shape-rendering="crispEdges"/>
<circle cx="342.5" cy="511.4" r="2.7" fill="#e0e0e0"/>
<circle cx="342.5" cy="508.6" r="2.7" fill="#7a7a7a"/>
<circle cx="349.5" cy="511.4" r="2.7" fill="#e0e0e0"/>
<circle cx="356.6" cy="511.4" r="2.7" fill="#e0e0e0"/>
<circle cx="363.6" cy="511.4" r="2.7" fill="#e0e0e0"/>
<circle cx="370.6" cy="511.4" r="2.7" fill="#e0e0e0"/>
<circle cx="377.7" cy="511.4" r="2.7" fill="#e0e0e0"/>
<circle cx="384.7" cy="511.4" r="2.7" fill="#e0e0e0"/>
<circle cx="391.7" cy="511.4" r="2.7" fill="#e0e0e0"/>
<circle cx="398.8" cy="511.4" r="2.7" fill="#e0e0e0"/>
<circle cx="405.8" cy="511.4" r="2.7" fill="#e0e0e0"/>
<circle cx="405.8" cy="508.6" r="2.7" fill="#7a7a7a"/>
<circle cx="412.8" cy="511.4" r="2.7" fill="#e0e0e0"/>
<circle cx="412.8" cy="508.6" r="2.7" fill="#7a7a7a"/>
<circle cx="419.9" cy="511.4" r="2.7" fill="#e0e0e0"/>
<circle cx="419.9" cy="508.6" r="2.7" fill="#7a7a7a"/>
<circle cx="426.9" cy="511.4" r="2.7" fill="#e0e0e0"/>
<circle cx="426.9" cy="508.6" r="2.7" fill="#686868"/>
<circle cx="433.9" cy="511.4" r="2.7" fill="#e0e0e0"/>
<circle cx="433.9" cy="508.6" r="2.7" fill="#686868"/>
<circle cx="441" cy="511.4" r="2.7" fill="#e0e0e0"/>
<circle cx="441" cy="508.6" r="2.7" fill="#686868"/>
<circle cx="448" cy="511.4" r="2.7" fill="#e0e0e0"/>
<circle cx="448" cy="508.6" r="2.7" fill="#686868"/>
<circle cx="455" cy="511.4" r="2.7" fill="#e0e0e0"/>
<circle cx="455" cy="508.6" r="2.7" fill="#686868"/>
<circle cx="462.1" cy="511.4" r="2.7" fill="#e0e0e0"/>
<circle cx="462.1" cy="508.6" r="2.7" fill="#686868"/>
<circle cx="469.1" cy="511.4" r="2.7" fill="#e0e0e0"/>
<circle cx="469.1" cy="508.6" r="2.7" fill="#686868"/>
<circle cx="476.1" cy="511.4" r="2.7" fill="#e0e0e0"/>
<circle cx="476.1" cy="508.6" r="2.7" fill="#686868"/>
<circle cx="483.2" cy="511.4" r="2.7" fill="#e0e0e0"/>
<circle cx="483.2" cy="508.6" r="2.7" fill="#7a7a7a"/>
<circle cx="490.2" cy="511.4" r="2.7" fill="#e0e0e0"/>
<circle cx="490.2" cy="508.6" r="2.7" fill="#7a7a7a"/>
<circle cx="497.2" cy="511.4" r="2.7" fill="#e0e0e0"/>
<circle cx="497.2" cy="508.6" r="2.7" fill="#7a7a7a"/>
<circle cx="504.3" cy="511.4" r="2.7" fill="#e0e0e0"/>
<circle cx="504.3" cy="508.6" r="2.7" fill="#7a7a7a"/>
<circle cx="511.3" cy="511.4" r="2.7" fill="#e0e0e0"/>
<circle cx="511.3" cy="508.6" r="2.7" fill="#7a7a7a"/>
<circle cx="518.3" cy="511.4" r="2.7" fill="#e0e0e0"/>
<circle cx="518.3" cy="508.6" r="2.7" fill="#7a7a7a"/>
<circle cx="525.4" cy="511.4" r="2.7" fill="#e0e0e0"/>
<circle cx="525.4" cy="508.6" r="2.7" fill="#7a7a7a"/>
<circle cx="532.4" cy="511.4" r="2.7" fill="#e0e0e0"/>
<circle cx="532.4" cy="508.6" r="2.7" fill="#7a7a7a"/>
<circle cx="539.4" cy="511.4" r="2.7" fill="#e0e0e0"/>
<circle cx="546.5" cy="511.4" r="2.7" fill="#e0e0e0"/>
<circle cx="553.5" cy="511.4" r="2.7" fill="#e0e0e0"/>
<circle cx="560.6" cy="511.4" r="2.7" fill="#e0e0e0"/>
<circle cx="567.6" cy="511.4" r="2.7" fill="#e0e0e0"/>
<circle cx="574.6" cy="511.4" r="2.7" fill="#e0e0e0"/>
<circle cx="581.7" cy="511.4" r="2.7" fill="#e0e0e0"/>
<circle cx="588.7" cy="511.4" r="2.7" fill="#e0e0e0"/>
<circle cx="588.7" cy="508.6" r="2.7" fill="#686868"/>
<circle cx="595.7" cy="511.4" r="2.7" fill="#e0e0e0"/>
<circle cx="595.7" cy="508.6" r="2.7" fill="#686868"/>
<circle cx="602.8" cy="511.4" r="2.7" fill="#e0e0e0"/>
<circle cx="602.8" cy="508.6" r="2.7" fill="#686868"/>
<circle cx="609.8" cy="511.4" r="2.7" fill="#e0e0e0"/>
<circle cx="609.8" cy="508.6" r="2.7" fill="#686868"/>
<circle cx="616.8" cy="511.4" r="2.7" fill="#e0e0e0"/>
<circle cx="616.8" cy="508.6" r="2.7" fill="#686868"/>
<circle cx="623.9" cy="511.4" r="2.7" fill="#e0e0e0"/>
<circle cx="623.9" cy="508.6" r="2.7" fill="#686868"/>
<circle cx="630.9" cy="511.4" r="2.7" fill="#e0e0e0"/>
<circle cx="630.9" cy="508.6" r="2.7" fill="#686868"/>
<circle cx="637.9" cy="511.4" r="2.7" fill="#e0e0e0"/>
<circle cx="637.9" cy="508.6" r="2.7" fill="#686868"/>
<circle cx="645" cy="511.4" r="2.7" fill="#e0e0e0"/>
<circle cx="645" cy="508.6" r="2.7" fill="#686868"/>
<circle cx="652" cy="511.4" r="2.7" fill="#e0e0e0"/>
<circle cx="652" cy="508.6" r="2.7" fill="#686868"/>
<circle cx="659" cy="508.4" r="2.7" fill="#c4c4c4"/>
<circle cx="666.1" cy="508.4" r="2.7" fill="#c4c4c4"/>
<circle cx="673.1" cy="508.4" r="2.7" fill="#c4c4c4"/>
<circle cx="680.1" cy="508.4" r="2.7" fill="#c4c4c4"/>
<circle cx="687.2" cy="508.4" r="2.7" fill="#c4c4c4"/>
<circle cx="694.2" cy="508.4" r="2.7" fill="#c4c4c4"/>
<circle cx="701.2" cy="508.4" r="2.7" fill="#c4c4c4"/>
<circle cx="708.3" cy="508.4" r="2.7" fill="#c4c4c4"/>
<circle cx="715.3" cy="508.4" r="2.7" fill="#c4c4c4"/>
<circle cx="722.3" cy="511.4" r="2.7" fill="#e0e0e0"/>
<circle cx="722.3" cy="508.6" r="2.7" fill="#7a7a7a"/>
<circle cx="729.4" cy="511.4" r="2.7" fill="#e0e0e0"/>
<circle cx="736.4" cy="511.4" r="2.7" fill="#e0e0e0"/>
<circle cx="743.4" cy="511.4" r="2.7" fill="#e0e0e0"/>
<circle cx="750.5" cy="511.4" r="2.7" fill="#e0e0e0"/>
<circle cx="757.5" cy="511.4" r="2.7" fill="#e0e0e0"/>
<circle cx="666.1" cy="486.4" r="2.7" fill="#666"/>
<circle cx="673.1" cy="503" r="2.7" fill="#555"/>
<circle cx="680.1" cy="503" r="2.7" fill="#666"/>
<circle cx="687.2" cy="506.4" r="2.7" fill="#666"/>
<circle cx="694.2" cy="507.4" r="2.7" fill="#666"/>
<circle cx="708.3" cy="500" r="2.7" fill="#555"/>
<circle cx="715.3" cy="499.4" r="2.7" fill="#555"/>
<circle cx="722.3" cy="508.6" r="2.7" fill="#666"/>
<circle cx="652" cy="505.4" r="2.7" fill="#777"/>
<circle cx="659" cy="477.2" r="2.7" fill="#444"/>
<circle cx="342.5" cy="450" r="2.7" fill="#b22222"/>
<circle cx="349.5" cy="450" r="2.7" fill="#b22222"/>
<circle cx="356.6" cy="450" r="2.7" fill="#b22222"/>
<circle cx="363.6" cy="450" r="2.7" fill="#b22222"/>
<circle cx="370.6" cy="450" r="2.7" fill="#b22222"/>
<circle cx="377.7" cy="450" r="2.7" fill="#b22222"/>
<circle cx="384.7" cy="450" r="2.7" fill="#b22222"/>
<circle cx="391.7" cy="450" r="2.7" fill="#b22222"/>
<circle cx="398.8" cy="450" r="2.7" fill="#b22222"/>
<circle cx="405.8" cy="450" r="2.7" fill="#b22222"/>
<circle cx="412.8" cy="450" r="2.7" fill="#b22222"/>
<circle cx="419.9" cy="450" r="2.7" fill="#b22222"/>
<circle cx="426.9" cy="450" r="2.7" fill="#b22222"/>
<circle cx="433.9" cy="450" r="2.7" fill="#b22222"/>
<circle cx="441" cy="450" r="2.7" fill="#b22222"/>
<circle cx="448" cy="450" r="2.7" fill="#b22222"/>
<circle cx="455" cy="451" r="2.7" fill="#b22222"/>
<circle cx="462.1" cy="451" r="2.7" fill="#b22222"/>
<circle cx="469.1" cy="451" r="2.7" fill="#b22222"/>
<circle cx="476.1" cy="451" r="2.7" fill="#b22222"/>
<circle cx="483.2" cy="451" r="2.7" fill="#b22222"/>
<circle cx="490.2" cy="452" r="2.7" fill="#b22222"/>
<circle cx="497.2" cy="452" r="2.7" fill="#b22222"/>
<circle cx="504.3" cy="452" r="2.7" fill="#b22222"/>
<circle cx="511.3" cy="452" r="2.7" fill="#b22222"/>
<circle cx="518.3" cy="452" r="2.7" fill="#b22222"/>
<circle cx="525.4" cy="452" r="2.7" fill="#b22222"/>
<circle cx="532.4" cy="452" r="2.7" fill="#b22222"/>
<circle cx="539.4" cy="452" r="2.7" fill="#b22222"/>
<circle cx="546.5" cy="452" r="2.7" fill="#b22222"/>
<circle cx="553.5" cy="453.6" r="2.7" fill="#b22222"/>
<circle cx="560.6" cy="454.6" r="2.7" fill="#b22222"/>
<circle cx="567.6" cy="453.6" r="2.7" fill="#b22222"/>
<circle cx="574.6" cy="452.6" r="2.7" fill="#b22222"/>
<circle cx="581.7" cy="474.4" r="2.7" fill="#b22222"/>
<circle cx="588.7" cy="473.4" r="2.7" fill="#b22222"/>
<circle cx="595.7" cy="474.4" r="2.7" fill="#b22222"/>
<circle cx="602.8" cy="474.4" r="2.7" fill="#b22222"/>
<circle cx="609.8" cy="474.4" r="2.7" fill="#b22222"/>
<circle cx="616.8" cy="474.8" r="2.7" fill="#b22222"/>
<circle cx="623.9" cy="474.8" r="2.7" fill="#b22222"/>
<circle cx="630.9" cy="474.8" r="2.7" fill="#b22222"/>
<circle cx="637.9" cy="474.4" r="2.7" fill="#b22222"/>
<circle cx="645" cy="474.4" r="2.7" fill="#b22222"/>
<circle cx="652" cy="474.4" r="2.7" fill="#b22222"/>
<circle cx="659" cy="474.4" r="2.7" fill="#b22222"/>
<circle cx="666.1" cy="463.4" r="2.7" fill="#b22222"/>
<circle cx="673.1" cy="461.4" r="2.7" fill="#b22222"/>
<circle cx="680.1" cy="459.4" r="2.7" fill="#b22222"/>
<circle cx="687.2" cy="459.4" r="2.7" fill="#b22222"/>
<circle cx="694.2" cy="459.4" r="2.7" fill="#b22222"/>
<circle cx="701.2" cy="462.6" r="2.7" fill="#b22222"/>
<circle cx="708.3" cy="474.4" r="2.7" fill="#b22222"/>
<circle cx="715.3" cy="474.4" r="2.7" fill="#b22222"/>
<circle cx="722.3" cy="473.6" r="2.7" fill="#b22222"/>
<circle cx="729.4" cy="474.4" r="2.7" fill="#b22222"/>
<circle cx="736.4" cy="474.8" r="2.7" fill="#b22222"/>
<circle cx="743.4" cy="475.2" r="2.7" fill="#b22222"/>
<circle cx="750.5" cy="475.2" r="2.7" fill="#b22222"/>
<circle cx="757.5" cy="474.4" r="2.7" fill="#b22222"/>
<polyline points="342.5,473.4 349.5,475 356.6,477 363.6,503 370.6,512 377.7,513.4 384.7,514 391.7,514 398.8,511 405.8,478 412.8,482 419.9,481.4 426.9,480 433.9,480 441,471.4 448,478 455,479.6 462.1,484 469.1,477 476.1,476.4 483.2,477 490.2,474.6 497.2,478 504.3,483.6 511.3,481.6 518.3,479.6 525.4,477 532.4,474.6 539.4,476 546.5,484.4 553.5,485 560.6,486 567.6,480 574.6,478.4 581.7,477 588.7,475.6 595.7,474 602.8,473.4 609.8,472 616.8,472 623.9,472 630.9,469.4 637.9,471.4 645,473 652,473.4 659,477 666.1,474 673.1,474 680.1,474 687.2,486.4 694.2,484 701.2,481 708.3,476 715.3,475.6 722.3,475.6 729.4,476.4 736.4,483 743.4,479 750.5,476.4 757.5,480" fill="none" stroke="#ff9900" stroke-width="1.8" stroke-linejoin="round" />
<circle cx="342.5" cy="504" r="2.7" fill="#000"/>
<circle cx="349.5" cy="507.6" r="2.7" fill="#000"/>
<circle cx="356.6" cy="508.6" r="2.7" fill="#000"/>
<circle cx="363.6" cy="510.4" r="2.7" fill="#000"/>
<circle cx="370.6" cy="510.4" r="2.7" fill="#000"/>
<circle cx="377.7" cy="510.4" r="2.7" fill="#000"/>
<circle cx="384.7" cy="510.4" r="2.7" fill="#000"/>
<circle cx="391.7" cy="510.4" r="2.7" fill="#000"/>
<circle cx="398.8" cy="510" r="2.7" fill="#000"/>
<circle cx="405.8" cy="501.6" r="2.7" fill="#000"/>
<circle cx="412.8" cy="503.6" r="2.7" fill="#000"/>
<circle cx="419.9" cy="481.4" r="2.7" fill="#000"/>
<circle cx="426.9" cy="481.4" r="2.7" fill="#000"/>
<circle cx="433.9" cy="503.6" r="2.7" fill="#000"/>
<circle cx="441" cy="503" r="2.7" fill="#000"/>
<circle cx="448" cy="503" r="2.7" fill="#000"/>
<circle cx="455" cy="502" r="2.7" fill="#000"/>
<circle cx="462.1" cy="502" r="2.7" fill="#000"/>
<circle cx="469.1" cy="502" r="2.7" fill="#000"/>
<circle cx="476.1" cy="502" r="2.7" fill="#000"/>
<circle cx="483.2" cy="499" r="2.7" fill="#000"/>
<circle cx="490.2" cy="485" r="2.7" fill="#000"/>
<circle cx="497.2" cy="500" r="2.7" fill="#000"/>
<circle cx="504.3" cy="502.4" r="2.7" fill="#000"/>
<circle cx="511.3" cy="486.4" r="2.7" fill="#000"/>
<circle cx="518.3" cy="488" r="2.7" fill="#000"/>
<circle cx="525.4" cy="502" r="2.7" fill="#000"/>
<circle cx="532.4" cy="502.4" r="2.7" fill="#000"/>
<circle cx="539.4" cy="507.4" r="2.7" fill="#000"/>
<circle cx="546.5" cy="508.6" r="2.7" fill="#000"/>
<circle cx="553.5" cy="508" r="2.7" fill="#000"/>
<circle cx="560.6" cy="509.6" r="2.7" fill="#000"/>
<circle cx="567.6" cy="507.4" r="2.7" fill="#000"/>
<circle cx="574.6" cy="507" r="2.7" fill="#000"/>
<circle cx="581.7" cy="507" r="2.7" fill="#000"/>
<circle cx="588.7" cy="506" r="2.7" fill="#000"/>
<circle cx="595.7" cy="503.6" r="2.7" fill="#000"/>
<circle cx="602.8" cy="503.6" r="2.7" fill="#000"/>
<circle cx="609.8" cy="502" r="2.7" fill="#000"/>
<circle cx="616.8" cy="502.4" r="2.7" fill="#000"/>
<circle cx="623.9" cy="502" r="2.7" fill="#000"/>
<circle cx="630.9" cy="502" r="2.7" fill="#000"/>
<circle cx="637.9" cy="502" r="2.7" fill="#000"/>
<circle cx="645" cy="503" r="2.7" fill="#000"/>
<circle cx="652" cy="476.4" r="2.7" fill="#000"/>
<circle cx="666.1" cy="476.4" r="2.7" fill="#000"/>
<circle cx="673.1" cy="496.4" r="2.7" fill="#000"/>
<circle cx="687.2" cy="495.6" r="2.7" fill="#000"/>
<circle cx="694.2" cy="491" r="2.7" fill="#000"/>
<circle cx="701.2" cy="488.6" r="2.7" fill="#000"/>
<circle cx="708.3" cy="488" r="2.7" fill="#000"/>
<circle cx="715.3" cy="491" r="2.7" fill="#000"/>
<circle cx="722.3" cy="496" r="2.7" fill="#000"/>
<circle cx="729.4" cy="507.6" r="2.7" fill="#000"/>
<circle cx="736.4" cy="509.6" r="2.7" fill="#000"/>
<circle cx="743.4" cy="508.6" r="2.7" fill="#000"/>
<circle cx="750.5" cy="509.6" r="2.7" fill="#000"/>
<circle cx="757.5" cy="510" r="2.7" fill="#000"/>
<rect x="342.5" y="438.5" width="415" height="78" fill="none" stroke="#000" stroke-width="1" shape-rendering="crispEdges"/>
<text x="337.3" y="442.2" font-size="10.7" fill="#000" stroke="#000" text-anchor="end" >15.0</text>
<text x="761.8" y="442.2" font-size="10.7" fill="#ff8800" stroke="#ff8800" text-anchor="start" >100</text>
<text x="337.3" y="461.6" font-size="10.7" fill="#000" stroke="#000" text-anchor="end" >7.0</text>
<text x="761.8" y="461.6" font-size="10.7" fill="#ff8800" stroke="#ff8800" text-anchor="start" >20</text>
<text x="337.3" y="481" font-size="10.7" fill="#000" stroke="#000" text-anchor="end" >2.0</text>
<text x="761.8" y="481" font-size="10.7" fill="#ff8800" stroke="#ff8800" text-anchor="start" >5</text>
<text x="337.3" y="500.4" font-size="10.7" fill="#000" stroke="#000" text-anchor="end" >0.5</text>
<text x="761.8" y="500.4" font-size="10.7" fill="#ff8800" stroke="#ff8800" text-anchor="start" >1</text>
<text x="337.3" y="519.8" font-size="10.7" fill="#000" stroke="#000" text-anchor="end" >0.0</text>
<text x="761.8" y="519.8" font-size="10.7" fill="#ff8800" stroke="#ff8800" text-anchor="start" >0</text>
<text transform="translate(293,475) rotate(-90)" font-size="12" fill="#00008b" stroke="#00008b" text-anchor="middle" textLength="101" lengthAdjust="spacingAndGlyphs">pion. rozciągł. chm.</text>
<text transform="translate(305.3,473.8) rotate(-90)" font-size="12" fill="#00008b" stroke="#00008b" text-anchor="middle">(km)</text>
<text transform="translate(802.5,474.6) rotate(-90)" font-size="12" fill="#00008b" stroke="#00008b" text-anchor="middle">(km)</text>
<text transform="translate(816,474.8) rotate(-90)" font-size="12" fill="#00008b" stroke="#00008b" text-anchor="middle" textLength="62.5" lengthAdjust="spacingAndGlyphs">widzialność</text>
<rect x="343" y="525" width="414" height="78" fill="#585858" />
<rect x="343" y="525" width="414" height="78" fill="#565656" />
<polygon points="343,526 361,526 343,541" fill="#5e5e5e" />
<polygon points="505.4,526 512.3,528.3 520.7,532.5 524.8,539.5 524.8,603 621.2,603 621.2,564.5 615.6,558.9 610.1,549.9 605.9,544.3 598.9,534.6 593.4,529.7 587.8,526" fill="#474747" />
<polygon points="734.8,530.4 744.6,533.9 750.1,528.3 757.5,533.9 757.5,603 722,603 722.3,556.2 725.1,547.8 730,539.5" fill="#474747" />
<polygon points="625.4,526 637.9,526 646.2,530.4 643.4,531.8 635.1,531.1 629.5,532.5 625.4,529.7" fill="#6e6e6e" />
<polygon points="646.2,530.4 649,526 667.1,526 671.3,545.7 667.1,549.9 659.4,555.5 653.2,551.3 649,538.1" fill="#929292" />
<polygon points="424,526 536,526 536,526.8 520,527.2 505,527.6 490,527.4 470,527.2 450,527.2 430,526.8" fill="#78c2f0" />
<polygon points="587.8,526 626.8,526 625.4,528.3 615.6,528.6 608.7,528.1 601.7,529 596.2,530 589.9,528.3" fill="#78c2f0" />
<polygon points="626,526 651,526 651,526.9 626,527.2" fill="#78c2f0" />
<polygon points="666.7,526 695.9,526 695.9,527 687.6,532.5 679.9,539.5 670.9,546.4" fill="#78c2f0" />
<polygon points="695.9,526 757,526 757,527 715.4,527.2 712,529.8 705,530 700,528" fill="#78c2f0" />
<polygon points="342.5,540 349.5,533 356.6,528 363.6,526 370.6,527 377.7,529 384.7,532 391.7,536 398.8,542 405.8,548 412.8,552 419.9,555 426.9,557 433.9,557 441,555.6 448,555 455,557 462.1,563 469.1,565 476.1,563 483.2,556 490.2,552 497.2,550 504.3,548 511.3,545 518.3,542 525.4,539 532.4,536 539.4,534 546.5,532 553.5,531 560.6,530.4 567.6,530.4 574.6,531.6 581.7,534 588.7,538 595.7,543 602.8,549 609.8,556 616.8,561 623.9,566 630.9,569 637.9,569 645,566 652,570 659,572 666.1,573 673.1,570 680.1,566 687.2,561 694.2,556 701.2,558 708.3,562 715.3,564 722.3,559 729.4,556 736.4,551 743.4,542 750.5,536 757.5,534 757.5,603 342.5,603" fill="#343434" />
<clipPath id="ck"><rect x="343" y="526" width="414.5" height="77"/></clipPath>
<path d="M342.7 583.5V604M349.7 575.5V604M356.8 561.5V604M363.8 552.5V604M370.8 544.5V604M377.9 543.5V604M384.9 538.1V604M391.9 538.1V604M399 548.5V604M406 579.5V604M413 575.5V604M420.1 586.5V604M427.1 587.9V604M434.1 587.1V604M441.2 591.1V604M448.2 587.9V604M455.2 587.9V604M462.3 587.9V604M469.3 591.9V604M476.3 591.1V604M483.4 587.9V604M490.4 589.9V604M497.4 587.9V604M504.5 583.5V604M511.5 581.1V604M518.5 585.5V604M525.6 579.1V604M532.6 575.1V604M539.6 568.1V604M546.7 560.5V604M553.7 561.1V604M560.8 559.1V604M567.8 565.1V604M574.8 569.1V604M581.9 571.1V604M588.9 576.1V604M595.9 583.1V604M603 587.9V604M610 596.5V604M617 599.9V604M624.1 599.9V604M631.1 603.1V604M638.1 601.9V604M645.2 596.5V604M652.2 592.5V604M659.2 593.9V604M666.3 597.1V604M673.3 598.5V604M680.3 597.1V604M687.4 592.1V604M694.4 582.5V604M701.4 581.1V604M708.5 581.1V604M715.5 583.1V604M722.5 585.1V604M729.6 569.1V604M736.6 560.1V604M743.6 565.1V604M750.7 561.1V604M757.7 560.1V604" stroke="#ffb400" stroke-width="3" stroke-linecap="round" fill="none" clip-path="url(#ck)"/>
<path d="M356.5 525V603M377.5 525V603M398.5 525V603M419.5 525V603M440.5 525V603M462.5 525V603M483.5 525V603M504.5 525V603M525.5 525V603M546.5 525V603M567.5 525V603M588.5 525V603M609.5 525V603M630.5 525V603M651.5 525V603M673.5 525V603M694.5 525V603M715.5 525V603M736.5 525V603M342 544.5H757M342 564.5H757M342 583.5H757" stroke="#000" stroke-width="1" stroke-dasharray="2 2" fill="none" shape-rendering="crispEdges"/>
<polyline points="342.5,590 349.5,582 356.6,556 363.6,539 370.6,531 377.7,529.6 384.7,533.6 391.7,527 398.8,526 405.8,527.4 412.8,527 419.9,527 426.9,529.6 433.9,528.4 441,529 448,527 455,527.4 462.1,526.4 469.1,530.4 476.1,528 483.2,531 490.2,529.6 497.2,531.6 504.3,529 511.3,529.6 518.3,531 525.4,540 532.4,539 539.4,540 546.5,541.6 553.5,544 560.6,547.6 567.6,546.4 574.6,555 581.7,561 588.7,568 595.7,574 602.8,567 609.8,552 616.8,540 623.9,529 630.9,528 637.9,527.6 645,527.2 652,527 659,527 666.1,527.4 673.1,548 680.1,577 687.2,564 694.2,530 701.2,529 708.3,536 715.3,538 722.3,537 729.4,542 736.4,552 743.4,546 750.5,527 757.5,529" fill="none" stroke="#a8a8a8" stroke-width="0.9" stroke-linejoin="round" />
<polyline points="342.5,582 349.5,577 356.6,574 363.6,573 370.6,572 377.7,574 384.7,583 391.7,580 398.8,576 405.8,580 412.8,583 419.9,589 426.9,589.6 433.9,587 441,585 448,582 455,581.4 462.1,580.4 469.1,584 476.1,585 483.2,586.4 490.2,583 497.2,580 504.3,580.4 511.3,585 518.3,593 525.4,592 532.4,591.6 539.4,591 546.5,591.6 553.5,592 560.6,593 567.6,596 574.6,600 581.7,603.2" fill="none" stroke="#ffffff" stroke-width="1.1" stroke-linejoin="round" />
<polyline points="659,603.2 673.1,601 687.2,569 701.2,600 708.3,603.2" fill="none" stroke="#ffffff" stroke-width="1.2" stroke-linejoin="round" />
<rect x="342.5" y="525.5" width="415" height="78" fill="none" stroke="#000" stroke-width="1" shape-rendering="crispEdges"/>
<text x="337.3" y="529.9" font-size="10.7" fill="#000" stroke="#000" text-anchor="end" >8</text>
<text x="761.8" y="529.6" font-size="10.7" fill="#ff8800" stroke="#ff8800" text-anchor="start" >1</text>
<text x="337.3" y="549.2" font-size="10.7" fill="#000" stroke="#000" text-anchor="end" >6</text>
<text x="761.8" y="548.9" font-size="10.7" fill="#ff8800" stroke="#ff8800" text-anchor="start" >0.75</text>
<text x="337.3" y="568.5" font-size="10.7" fill="#000" stroke="#000" text-anchor="end" >4</text>
<text x="761.8" y="568.2" font-size="10.7" fill="#ff8800" stroke="#ff8800" text-anchor="start" >0.5</text>
<text x="337.3" y="587.8" font-size="10.7" fill="#000" stroke="#000" text-anchor="end" >2</text>
<text x="761.8" y="587.5" font-size="10.7" fill="#ff8800" stroke="#ff8800" text-anchor="start" >0.25</text>
<text x="337.3" y="607.1" font-size="10.7" fill="#000" stroke="#000" text-anchor="end" >0</text>
<text x="761.8" y="606.8" font-size="10.7" fill="#ff8800" stroke="#ff8800" text-anchor="start" >0</text>
<text transform="translate(293,572.2) rotate(-90)" font-size="12" fill="#00008b" stroke="#00008b" text-anchor="middle" textLength="74.7" lengthAdjust="spacingAndGlyphs">zachmurzenie</text>
<text transform="translate(305.3,563.4) rotate(-90)" font-size="12" fill="#00008b" stroke="#00008b" text-anchor="middle" textLength="45.5" lengthAdjust="spacingAndGlyphs">(oktanty)</text>
<text transform="translate(802.5,562.8) rotate(-90)" font-size="12" fill="#00008b" stroke="#00008b" text-anchor="middle" textLength="44" lengthAdjust="spacingAndGlyphs">(frakcja)</text>
<text transform="translate(816,562.4) rotate(-90)" font-size="12" fill="#00008b" stroke="#00008b" text-anchor="middle">mgła</text>
<g shape-rendering="crispEdges">
<rect x="0" y="0" width="280" height="660" fill="#ffffff" />
<rect x="170.3" y="30" width="61.3" height="598.5" fill="#ecf2fd" />
<rect x="5" y="0" width="1" height="2" fill="#000" />
<text x="163.9" y="51.3" font-size="12" fill="#000" stroke="#000" text-anchor="middle" >20</text>
<text x="204.4" y="51.3" font-size="12" fill="#000" stroke="#000" text-anchor="middle" >02</text>
<text x="244.3" y="51.3" font-size="12" fill="#000" stroke="#000" text-anchor="middle" >08</text>
<text x="164" y="614.5" font-size="12" fill="#000" stroke="#000" text-anchor="middle" >18</text>
<text x="204" y="614.5" font-size="12" fill="#000" stroke="#000" text-anchor="middle" >00</text>
<text x="244.6" y="614.5" font-size="12" fill="#000" stroke="#000" text-anchor="middle" >06</text>
<polygon points="136,111.5 169.5,111.5 171.1,111.5 178.1,113.2 185.1,114 192.1,115.1 199.2,117.6 206.2,117.6 213.2,118.8 220.2,116.6 227.2,118.8 234.2,122.4 241.3,116.6 246.3,116.6 246.3,134.6 136,134.6" fill="#c4e8fd" />
<polygon points="136,111.5 169.5,111.8 169.5,134.6 136,134.6" fill="#86d2f8" />
<polygon points="136,103.4 143,104.4 150,107.1 157.1,109.3 164.1,111.2 169.5,111.8 136,111.8" fill="#c4e8fd" />
<polygon points="169.5,114.4 178.3,118.8 192.2,123.2 206.1,127.6 220.7,130.5 232.4,133.7 232.4,134.6 169.5,134.6" fill="#6cb2e6" />
<polygon points="232.4,123.9 238.3,120.2 246.3,118.8 246.3,134.6 232.4,134.6" fill="#86d2f8" />
<polygon points="136,88.1 143,89.5 150,93.2 157.1,96.1 164.1,98.3 171.1,101.2 178.1,103.4 185.1,105.6 192.1,107.4 199.2,108.5 206.2,109.3 213.2,109.3 220.2,109.3 227.2,110 234.2,109.3 241.3,107.8 246.3,107.1 246.3,118.8 241.3,120.2 234.2,126.8 227.2,126.1 220.2,126.8 213.2,126.1 206.2,124.6 199.2,123.2 192.1,118.8 185.1,117.6 178.1,116.6 171.1,114.4 164.1,110.7 157.1,108.5 150,106.3 143,104.1 136,103" fill="#ffe6dc" />
<path d="M143.5 71.2V98.3M150.5 77.8V101.2M157.5 86.6V100.5M164.5 96.1V108.5M171.5 100.5V114.4M178.5 102.7V118.8M185.5 107.8V120.2M192.5 107.1V123.9M199.5 107.8V125.4M206.5 108.5V127.6M213.5 108.5V129.8M220.5 110V130.5M227.5 111.5V131.2M234.5 110.7V132.7M241.5 105.6V120.2" stroke="#a52020" stroke-width="1" fill="none"/>
<path d="M142.5 57V134M163.5 57V134M184.5 57V134M205.5 57V134M226.5 57V134M135 59.5H245M135 77.5H245M135 94.5H245M135 111.5H245M135 129.5H245" stroke="#000" stroke-width="1" stroke-dasharray="2 2" fill="none" shape-rendering="crispEdges"/>
<rect x="141.8" y="112.5" width="2.4" height="2.4" fill="#6a4fe0" />
<rect x="148.8" y="112.8" width="2.4" height="2.4" fill="#6a4fe0" />
<rect x="155.9" y="113.9" width="2.4" height="2.4" fill="#6a4fe0" />
<rect x="162.9" y="114.2" width="2.4" height="2.4" fill="#6a4fe0" />
<rect x="169.9" y="113.2" width="2.4" height="2.4" fill="#6a4fe0" />
<rect x="184" y="116.9" width="2.4" height="2.4" fill="#6a4fe0" />
<rect x="191" y="117.6" width="2.4" height="2.4" fill="#6a4fe0" />
<rect x="197.9" y="118.8" width="2.4" height="2.4" fill="#6a4fe0" />
<rect x="219" y="119.3" width="2.4" height="2.4" fill="#6a4fe0" />
<rect x="226" y="119.8" width="2.4" height="2.4" fill="#6a4fe0" />
<rect x="233" y="120.5" width="2.4" height="2.4" fill="#6a4fe0" />
<rect x="240" y="117.6" width="2.4" height="2.4" fill="#6a4fe0" />
<polyline points="136,103 143,103.9 150,106.3 157.1,108.5 164.1,110 171.1,111.5 178.1,113.2 185.1,114 192.1,115.1 199.2,117.6 206.2,117.6 213.2,118.8 220.2,116.6 227.2,118.8 234.2,122.4 241.3,116.6 246.3,116.6" fill="none" stroke="#0000ff" stroke-width="2" stroke-linejoin="round" />
<polyline points="136,99 143,99.5 150,101.2 157.1,103.9 164.1,107.1 171.1,110.3 178.1,112.6 185.1,113.7 192.1,113.7 199.2,113.2 206.2,113.7 213.2,114.4 220.2,114.7 227.2,115.1 234.2,118.5 241.3,114.4 246.3,112.2" fill="none" stroke="#ff0000" stroke-width="2" stroke-linejoin="round" />
<rect x="135.5" y="57.5" width="110" height="77" fill="none" stroke="#000" stroke-width="1" shape-rendering="crispEdges"/>
<text x="128.3" y="63.3" font-size="10.7" fill="#000" stroke="#000" text-anchor="end" >30</text>
<text x="266.3" y="63.3" font-size="10.7" fill="#000" stroke="#000" text-anchor="end" >30</text>
<text x="128.3" y="81.1" font-size="10.7" fill="#000" stroke="#000" text-anchor="end" >20</text>
<text x="266.3" y="81.1" font-size="10.7" fill="#000" stroke="#000" text-anchor="end" >20</text>
<text x="128.3" y="98.4" font-size="10.7" fill="#000" stroke="#000" text-anchor="end" >10</text>
<text x="266.3" y="98.4" font-size="10.7" fill="#000" stroke="#000" text-anchor="end" >10</text>
<text x="128.3" y="115.1" font-size="10.7" fill="#000" stroke="#000" text-anchor="end" >0</text>
<text x="266.3" y="115.1" font-size="10.7" fill="#000" stroke="#000" text-anchor="end" >0</text>
<text x="128.3" y="133.1" font-size="10.7" fill="#000" stroke="#000" text-anchor="end" >-10</text>
<text x="266.3" y="133.1" font-size="10.7" fill="#000" stroke="#000" text-anchor="end" >-10</text>
<rect x="136" y="187" width="7.4" height="33.2" fill="#009a00" />
<rect x="143" y="181.1" width="7.4" height="39.1" fill="#009a00" />
<rect x="150" y="178.9" width="7.4" height="41.3" fill="#009a00" />
<rect x="157.1" y="181.8" width="7.4" height="19.8" fill="#1030d0" />
<rect x="157.1" y="201.6" width="7.4" height="18.6" fill="#009a00" />
<rect x="164.1" y="205.2" width="6.1" height="2.9" fill="#1030d0" />
<rect x="164.1" y="208.2" width="6.1" height="12" fill="#009a00" />
<rect x="169.8" y="218.4" width="7.4" height="1.8" fill="#009a00" />
<line x1="139.5" y1="165" x2="139.5" y2="187" stroke="#009a00" stroke-width="1" />
<line x1="146.5" y1="148.9" x2="146.5" y2="181.1" stroke="#009a00" stroke-width="1" />
<line x1="153.5" y1="148.9" x2="153.5" y2="178.9" stroke="#009a00" stroke-width="1" />
<line x1="160.5" y1="170.9" x2="160.5" y2="181.8" stroke="#1030d0" stroke-width="1" />
<path d="M143.5 143V220M164.5 143V220M184.5 143V220M204.5 143V220M225.5 143V220M135 150.5H245M135 168.5H245M135 185.5H245M135 203.5H245" stroke="#000" stroke-width="1" stroke-dasharray="2 2" fill="none" shape-rendering="crispEdges"/>
<rect x="144.9" y="145.9" width="3" height="3" fill="#ff0000" />
<rect x="151.9" y="145.9" width="3" height="3" fill="#ff0000" />
<line x1="138" y1="219.5" x2="164" y2="219.5" stroke="#ff0000" stroke-width="1" stroke-dasharray="3 3"/>
<polyline points="136.6,171.6 140.2,169.4 143.9,167.2 146.8,162.1 152,157.7 157.8,155.2 164.7,153.3 173.9,152.9 184.9,152.6 190,149.3 194.4,148.6 198.8,149.3 204.9,154 210.5,156.2 214.9,154.8 220.7,151.1 225.9,149.3 231,150.1 235.4,152.6 240.5,157.7 245.6,164.3" fill="none" stroke="#e8450e" stroke-width="1.8" stroke-linejoin="round" />
<circle cx="139.5" cy="173.3" r="2.2" fill="#ffee00" stroke="#5a1a00" stroke-width="0.8"/>
<circle cx="146.4" cy="173.3" r="2.2" fill="#ffaa00" stroke="#5a1a00" stroke-width="0.8"/>
<circle cx="153.4" cy="173.3" r="2.2" fill="#ff0000" stroke="#5a1a00" stroke-width="0.8"/>
<rect x="135.5" y="143.5" width="110" height="77" fill="none" stroke="#000" stroke-width="1" shape-rendering="crispEdges"/>
<text x="128.3" y="154.2" font-size="10.7" fill="#000" stroke="#000" text-anchor="end" >2.0</text>
<text x="253" y="154.2" font-size="10.7" fill="#e8501a" stroke="#e8501a" text-anchor="start" >96</text>
<text x="128.3" y="171.4" font-size="10.7" fill="#000" stroke="#000" text-anchor="end" >1.5</text>
<text x="253" y="171.4" font-size="10.7" fill="#e8501a" stroke="#e8501a" text-anchor="start" >84</text>
<text x="128.3" y="188.8" font-size="10.7" fill="#000" stroke="#000" text-anchor="end" >1.0</text>
<text x="253" y="188.8" font-size="10.7" fill="#e8501a" stroke="#e8501a" text-anchor="start" >73</text>
<text x="128.3" y="206.3" font-size="10.7" fill="#000" stroke="#000" text-anchor="end" >0.5</text>
<text x="253" y="206.3" font-size="10.7" fill="#e8501a" stroke="#e8501a" text-anchor="start" >61</text>
<text x="128.3" y="223.6" font-size="10.7" fill="#000" stroke="#000" text-anchor="end" >0.0</text>
<text x="253" y="223.6" font-size="10.7" fill="#e8501a" stroke="#e8501a" text-anchor="start" >50</text>
<polygon points="136,260.2 143,259.8 150,253.7 157.1,249.3 164.1,249 170.2,245.2 178.1,248.5 185.2,250.4 192.2,254 199.1,254 206.1,254 213.1,254 220.2,254 225.9,254.4 234.2,258.8 241.2,263.2 246.3,266.1 246.3,306.3 136,306.3" fill="#ffff00" />
<polygon points="165.9,248.1 170.2,245.2 170.2,306.3 165.9,306.3" fill="#ffd800" />
<path d="M143.5 229V306M164.5 229V306M184.5 229V306M204.5 229V306M225.5 229V306M135 231.5H245M135 254.5H245M135 278.5H245M135 301.5H245" stroke="#000" stroke-width="1" stroke-dasharray="2 2" fill="none" shape-rendering="crispEdges"/>
<polyline points="136,260.2 143,259.8 150,253.7 157.1,249.3 164.1,249 170.2,245.2 178.1,248.5 185.2,250.4 192.2,254 199.1,254 206.1,254 213.1,254 220.2,254 225.9,254.4 234.2,258.8 241.2,263.2 246.3,266.1" fill="none" stroke="#000" stroke-width="2" stroke-linejoin="round" />
<rect x="135.5" y="229.5" width="110" height="77" fill="none" stroke="#000" stroke-width="1" shape-rendering="crispEdges"/>
<text x="128.3" y="235.2" font-size="10.7" fill="#000" stroke="#000" text-anchor="end" >1018</text>
<text x="250.3" y="235.2" font-size="10.7" fill="#000" stroke="#000" text-anchor="start" >1018</text>
<text x="128.3" y="258.2" font-size="10.7" fill="#000" stroke="#000" text-anchor="end" >1016</text>
<text x="250.3" y="258.2" font-size="10.7" fill="#000" stroke="#000" text-anchor="start" >1016</text>
<text x="128.3" y="282" font-size="10.7" fill="#000" stroke="#000" text-anchor="end" >1014</text>
<text x="250.3" y="282" font-size="10.7" fill="#000" stroke="#000" text-anchor="start" >1014</text>
<text x="128.3" y="305" font-size="10.7" fill="#000" stroke="#000" text-anchor="end" >1012</text>
<text x="250.3" y="305" font-size="10.7" fill="#000" stroke="#000" text-anchor="start" >1012</text>
<polygon points="135.7,365.3 142.7,368.1 143.1,368.1 143.1,392.3 135.7,392.3" fill="#14c414" />
<polygon points="142.7,368.1 143.3,368.4 148.4,370.1 148.8,370.1 148.8,392.3 142.7,392.3" fill="#10a410" />
<polygon points="148.4,370.1 150.4,370.8 157.6,372.1 164.8,373.5 168.9,374.3 169.3,374.3 169.3,392.3 148.4,392.3" fill="#087a08" />
<polygon points="168.9,374.3 171.9,374.9 179.1,375.6 185.2,375.6 191.3,374.5 197.1,373 197.5,373 197.5,392.3 168.9,392.3" fill="#105090" />
<polygon points="197.1,373 197.5,372.9 204.6,372.5 211.2,372.5 211.6,372.5 211.6,392.3 197.1,392.3" fill="#087a08" />
<polygon points="211.2,372.5 211.8,372.5 219,372.5 225.5,372.1 225.9,372.1 225.9,392.3 211.2,392.3" fill="#105090" />
<polygon points="225.5,372.1 226.1,372.1 232.2,370.8 238.4,370.1 238.8,370.1 238.8,392.3 225.5,392.3" fill="#087a08" />
<polygon points="238.4,370.1 239.4,370 245.5,370 245.5,370 245.5,392.3 238.4,392.3" fill="#14c414" />
<path d="M143.5 315V392M164.5 315V392M184.5 315V392M204.5 315V392M225.5 315V392M135 334.5H245M135 354.5H245M135 374.5H245" stroke="#000" stroke-width="1" stroke-dasharray="2 2" fill="none" shape-rendering="crispEdges"/>
<path d="M141.2 340.5H148.8M148.8 347.5H155.6M155.6 348.5H162.7M162.7 351.5H169.9M169.9 355.5H177M177 358.5H184.2M184.2 354.5H190.3M190.3 351.5H197.5M197.5 350.5H204.6M204.6 350.5H211.8M211.8 351.5H219M219 351.5H226.1M226.1 347.5H232.2M232.2 343.5H239.4M239.4 342.5H245.5" stroke="#ff0000" stroke-width="1" fill="none" shape-rendering="crispEdges"/>
<polygon points="137,316.5 139.8,316.5 138.2,319.5" fill="#ff0000" />
<polyline points="135.7,365.3 143.3,368.4 150.4,370.8 157.6,372.1 164.8,373.5 171.9,374.9 179.1,375.6 185.2,375.6 191.3,374.5 197.5,372.9 204.6,372.5 211.8,372.5 219,372.5 226.1,372.1 232.2,370.8 239.4,370 245.5,370" fill="none" stroke="#00009c" stroke-width="2" stroke-linejoin="round" />
<rect x="135.5" y="315.5" width="110" height="77" fill="none" stroke="#000" stroke-width="1" shape-rendering="crispEdges"/>
<text x="128.3" y="319.4" font-size="10.7" fill="#000" stroke="#000" text-anchor="end" >20</text>
<text x="250.5" y="319.4" font-size="10.7" fill="#000" stroke="#000" text-anchor="start" >72</text>
<text x="128.3" y="338.2" font-size="10.7" fill="#000" stroke="#000" text-anchor="end" >15</text>
<text x="250.5" y="338.2" font-size="10.7" fill="#000" stroke="#000" text-anchor="start" >54</text>
<text x="128.3" y="358.1" font-size="10.7" fill="#000" stroke="#000" text-anchor="end" >10</text>
<text x="250.5" y="358.1" font-size="10.7" fill="#000" stroke="#000" text-anchor="start" >36</text>
<text x="128.3" y="377.2" font-size="10.7" fill="#000" stroke="#000" text-anchor="end" >5</text>
<text x="250.5" y="377.2" font-size="10.7" fill="#000" stroke="#000" text-anchor="start" >18</text>
<text x="128.3" y="395.8" font-size="10.7" fill="#000" stroke="#000" text-anchor="end" >0</text>
<text x="253.5" y="395.8" font-size="10.7" fill="#000" stroke="#000" text-anchor="start" >0</text>
<path d="M143.5 399V430M164.5 399V430M184.5 399V430M204.5 399V430M225.5 399V430" stroke="#000" stroke-width="1" stroke-dasharray="2 2" fill="none" shape-rendering="crispEdges"/>
<defs><g id="arw2"><path d="M0 -10V5" stroke="#00009c" stroke-width="1.3" fill="none"/><path d="M0 10.5L-3.8 2.5L3.8 2.5Z" fill="#00009c"/></g></defs>
<clipPath id="c5"><rect x="136" y="399" width="114" height="31"/></clipPath><g clip-path="url(#c5)">
<use href="#arw2" transform="translate(135.3,414.8) rotate(-25)"/>
<use href="#arw2" transform="translate(142.3,414.8) rotate(-25)"/>
<use href="#arw2" transform="translate(149.3,414.8) rotate(-25)"/>
<use href="#arw2" transform="translate(156.3,414.8) rotate(-25)"/>
<use href="#arw2" transform="translate(163.4,414.8) rotate(-22)"/>
<use href="#arw2" transform="translate(170.4,414.8) rotate(-18)"/>
<use href="#arw2" transform="translate(177.4,414.8) rotate(-14)"/>
<use href="#arw2" transform="translate(184.4,414.8) rotate(-12)"/>
<use href="#arw2" transform="translate(191.4,414.8) rotate(-12)"/>
<use href="#arw2" transform="translate(198.4,414.8) rotate(-12)"/>
<use href="#arw2" transform="translate(205.5,414.8) rotate(-14)"/>
<use href="#arw2" transform="translate(212.5,414.8) rotate(-16)"/>
<use href="#arw2" transform="translate(219.5,414.8) rotate(-18)"/>
<use href="#arw2" transform="translate(226.5,414.8) rotate(-20)"/>
<use href="#arw2" transform="translate(233.5,414.8) rotate(-22)"/>
<use href="#arw2" transform="translate(240.5,414.8) rotate(-22)"/>
<use href="#arw2" transform="translate(247.6,414.8) rotate(-22)"/>
<use href="#arw2" transform="translate(254.6,414.8) rotate(-22)"/>
</g>
<rect x="135.5" y="399.5" width="110" height="31" fill="none" stroke="#000" stroke-width="1" shape-rendering="crispEdges"/>
<rect x="136" y="437" width="109" height="77" fill="#8ad6ff" />
<rect x="170.3" y="437" width="61.3" height="77" fill="#80c6f4" />
<path d="M143.5 436V514M164.5 436V514M184.5 436V514M204.5 436V514M225.5 436V514M135 456.5H245M135 475.5H245M135 495.5H245" stroke="#000" stroke-width="1" stroke-dasharray="2 2" fill="none" shape-rendering="crispEdges"/>
<circle cx="150.5" cy="500.4" r="2.3" fill="#ffffff"/>
<circle cx="164.4" cy="499.1" r="2.3" fill="#ffffff"/>
<circle cx="143.7" cy="505.1" r="2.3" fill="#ffffff"/>
<circle cx="170.6" cy="493" r="2.3" fill="#ffffff"/>
<circle cx="177.6" cy="493" r="2.3" fill="#ffffff"/>
<circle cx="191.6" cy="500.4" r="2.3" fill="#ffffff"/>
<circle cx="198.6" cy="493" r="2.3" fill="#ffffff"/>
<circle cx="204.6" cy="492.3" r="2.3" fill="#ffffff"/>
<circle cx="211.4" cy="493" r="2.3" fill="#ffffff"/>
<circle cx="184.5" cy="509.5" r="2.3" fill="#ffffff"/>
<circle cx="218.3" cy="509.5" r="2.3" fill="#ffffff"/>
<circle cx="225.5" cy="509.5" r="2.3" fill="#ffffff"/>
<circle cx="232.4" cy="509.5" r="2.3" fill="#ffffff"/>
<circle cx="239.4" cy="509.5" r="2.3" fill="#ffffff"/>
<circle cx="170.6" cy="489.4" r="2.5" fill="#cfcfcf"/>
<circle cx="198.6" cy="489.4" r="2.5" fill="#cfcfcf"/>
<circle cx="211.4" cy="489.4" r="2.5" fill="#cfcfcf"/>
<circle cx="218.3" cy="500.4" r="2.5" fill="#cfcfcf"/>
<circle cx="225.5" cy="500.4" r="2.5" fill="#cfcfcf"/>
<circle cx="232.4" cy="500.4" r="2.5" fill="#cfcfcf"/>
<circle cx="239.4" cy="500.4" r="2.5" fill="#cfcfcf"/>
<circle cx="136.4" cy="505.5" r="2.5" fill="#cfcfcf"/>
<circle cx="244.9" cy="500.4" r="2.5" fill="#cfcfcf"/>
<circle cx="177.6" cy="489" r="2.5" fill="#9a9a9a"/>
<circle cx="198.6" cy="485" r="2.5" fill="#9a9a9a"/>
<circle cx="211.4" cy="481.7" r="2.5" fill="#9a9a9a"/>
<circle cx="211.4" cy="486.3" r="2.5" fill="#9a9a9a"/>
<circle cx="239.4" cy="494.5" r="2.5" fill="#9a9a9a"/>
<circle cx="184.5" cy="503.7" r="2.5" fill="#9a9a9a"/>
<circle cx="244.9" cy="481.7" r="2.5" fill="#9a9a9a"/>
<circle cx="143.7" cy="481.3" r="2.5" fill="#555555"/>
<circle cx="150.5" cy="492.7" r="2.5" fill="#555555"/>
<circle cx="157.4" cy="492.7" r="2.5" fill="#555555"/>
<circle cx="164.4" cy="492.7" r="2.5" fill="#555555"/>
<circle cx="184.5" cy="500" r="2.5" fill="#555555"/>
<circle cx="191.6" cy="489" r="2.5" fill="#555555"/>
<circle cx="218.3" cy="489" r="2.5" fill="#555555"/>
<circle cx="225.5" cy="492.7" r="2.5" fill="#555555"/>
<circle cx="232.4" cy="493.6" r="2.5" fill="#555555"/>
<circle cx="143.7" cy="500" r="2.5" fill="#555555"/>
<circle cx="136.4" cy="475.3" r="2.6" fill="#b22222"/>
<circle cx="143.7" cy="475.3" r="2.6" fill="#b22222"/>
<circle cx="150.5" cy="458.5" r="2.6" fill="#b22222"/>
<circle cx="157.4" cy="458.5" r="2.6" fill="#b22222"/>
<circle cx="164.4" cy="459.4" r="2.6" fill="#b22222"/>
<circle cx="170.6" cy="451.5" r="2.6" fill="#b22222"/>
<circle cx="177.6" cy="449.1" r="2.6" fill="#b22222"/>
<circle cx="184.5" cy="449.1" r="2.6" fill="#b22222"/>
<circle cx="191.6" cy="449.1" r="2.6" fill="#b22222"/>
<circle cx="198.6" cy="451.5" r="2.6" fill="#b22222"/>
<circle cx="204.6" cy="449.1" r="2.6" fill="#b22222"/>
<circle cx="211.4" cy="449.1" r="2.6" fill="#b22222"/>
<circle cx="218.3" cy="449.1" r="2.6" fill="#b22222"/>
<circle cx="225.5" cy="449.1" r="2.6" fill="#b22222"/>
<circle cx="232.4" cy="449.1" r="2.6" fill="#b22222"/>
<circle cx="239.4" cy="449.1" r="2.6" fill="#b22222"/>
<circle cx="245.2" cy="449.1" r="2.6" fill="#b22222"/>
<polyline points="136,471.6 143.2,470.7 147.4,467.1 157.4,464.3 164.4,463.8 178.5,463.8 184.5,466.7 191.6,469.8 198.6,470.7 204.6,471.1 211.4,472.9 218.3,474.4 225.5,474.4 232.4,474 239.4,471.6 245.6,469.8" fill="none" stroke="#ff9900" stroke-width="2" stroke-linejoin="round" />
<circle cx="191.6" cy="456.5" r="2.5" fill="#000000"/>
<circle cx="198.6" cy="464" r="2.5" fill="#000000"/>
<circle cx="204.6" cy="468.4" r="2.5" fill="#000000"/>
<circle cx="211.4" cy="469.8" r="2.5" fill="#000000"/>
<circle cx="218.3" cy="481.3" r="2.5" fill="#000000"/>
<circle cx="225.5" cy="485" r="2.5" fill="#000000"/>
<circle cx="232.4" cy="489" r="2.5" fill="#000000"/>
<circle cx="239.4" cy="481.3" r="2.5" fill="#000000"/>
<circle cx="245.2" cy="476.2" r="2.5" fill="#000000"/>
<circle cx="184.5" cy="489" r="2.5" fill="#000000"/>
<rect x="135.5" y="436.5" width="110" height="78" fill="none" stroke="#000" stroke-width="1" shape-rendering="crispEdges"/>
<text x="128.3" y="440.3" font-size="10.7" fill="#000" stroke="#000" text-anchor="end" >15.0</text>
<text x="251.3" y="440.3" font-size="10.7" fill="#ff8800" stroke="#ff8800" text-anchor="start" >100</text>
<text x="128.3" y="460" font-size="10.7" fill="#000" stroke="#000" text-anchor="end" >7.0</text>
<text x="251.3" y="460" font-size="10.7" fill="#ff8800" stroke="#ff8800" text-anchor="start" >20</text>
<text x="128.3" y="479.1" font-size="10.7" fill="#000" stroke="#000" text-anchor="end" >2.0</text>
<text x="251.3" y="479.1" font-size="10.7" fill="#ff8800" stroke="#ff8800" text-anchor="start" >5</text>
<text x="128.3" y="498.7" font-size="10.7" fill="#000" stroke="#000" text-anchor="end" >0.5</text>
<text x="251.3" y="498.7" font-size="10.7" fill="#ff8800" stroke="#ff8800" text-anchor="start" >1</text>
<text x="128.3" y="518.1" font-size="10.7" fill="#000" stroke="#000" text-anchor="end" >0.0</text>
<text x="251.3" y="518.1" font-size="10.7" fill="#ff8800" stroke="#ff8800" text-anchor="start" >0</text>
<rect x="136" y="524" width="109" height="77" fill="#8ad6ff" />
<rect x="170.3" y="524" width="61.3" height="77" fill="#80c6f4" />
<polygon points="164.5,601.3 166.9,589.5 170.7,574.4 177.3,565.9 184.9,564 190.6,550.7 196.3,546 205.8,543.1 209.5,528.9 204.8,534.6 197.2,530.8 195.3,546 192.5,570.6 184.9,568.7 179.6,589.5 175.5,593.3" fill="#ffffff" />
<polygon points="197.2,530.8 204.8,534.6 209.5,528.9 217.1,525.2 233.2,524.2 245.5,524.2 245.5,601.3 192.5,601.3 192.5,570.6 195.3,546" fill="#909090" />
<polygon points="135.3,576.3 143.3,564 149.9,577.2 156.5,582.9 164.5,585.8 166,595.2 164.5,601.3 135.3,601.3" fill="#585858" />
<polygon points="135.3,591.4 139.5,596.2 148.9,591.4 164.1,601.3 135.3,601.3" fill="#333333" />
<polygon points="164.5,601.3 166,589.5 175.5,593.3 179.6,589.5 184.9,568.7 192.5,570.6 204.8,595.2 213.3,582 219,547.9 226.6,534.6 234.2,542.2 239.8,553.6 245.5,566.8 245.5,601.3" fill="#585858" />
<rect x="217.1" y="589.9" width="2.7" height="10.6" fill="#ffb400" />
<rect x="224.3" y="589.9" width="2.7" height="10.6" fill="#ffb400" />
<rect x="231.3" y="589.9" width="2.7" height="10.6" fill="#ffb400" />
<rect x="238.5" y="589.9" width="2.7" height="10.6" fill="#ffb400" />
<path d="M143.5 523V601M164.5 523V601M184.5 523V601M204.5 523V601M225.5 523V601M135 543.5H245M135 562.5H245M135 582.5H245" stroke="#000" stroke-width="1" stroke-dasharray="2 2" fill="none" shape-rendering="crispEdges"/>
<polyline points="209.5,528.9 217.1,525.2 233.2,524.2 238.9,536.5 245.5,544.1" fill="none" stroke="#ffffff" stroke-width="1" stroke-linejoin="round" />
<polyline points="184.9,601.3 190.6,582 195.3,546" fill="none" stroke="#d0d0d0" stroke-width="0.8" stroke-linejoin="round" />
<rect x="135.5" y="523.5" width="110" height="78" fill="none" stroke="#000" stroke-width="1" shape-rendering="crispEdges"/>
<text x="128.3" y="526.6" font-size="10.7" fill="#000" stroke="#000" text-anchor="end" >8</text>
<text x="251.3" y="526.6" font-size="10.7" fill="#ff8800" stroke="#ff8800" text-anchor="start" >1</text>
<text x="128.3" y="547.1" font-size="10.7" fill="#000" stroke="#000" text-anchor="end" >6</text>
<text x="251.3" y="547.1" font-size="10.7" fill="#ff8800" stroke="#ff8800" text-anchor="start" >0.75</text>
<text x="128.3" y="566.1" font-size="10.7" fill="#000" stroke="#000" text-anchor="end" >4</text>
<text x="251.3" y="566.1" font-size="10.7" fill="#ff8800" stroke="#ff8800" text-anchor="start" >0.5</text>
<text x="128.3" y="585.8" font-size="10.7" fill="#000" stroke="#000" text-anchor="end" >2</text>
<text x="251.3" y="585.8" font-size="10.7" fill="#ff8800" stroke="#ff8800" text-anchor="start" >0.25</text>
<text x="128.3" y="604.8" font-size="10.7" fill="#000" stroke="#000" text-anchor="end" >0</text>
<text x="251.3" y="604.8" font-size="10.7" fill="#ff8800" stroke="#ff8800" text-anchor="start" >0</text>
<text x="6" y="18" font-size="10.6" fill="#000" stroke="#000" text-anchor="start" textLength="59.5" lengthAdjust="spacingAndGlyphs" >Czas lokalny</text>
<text x="6" y="29.5" font-size="10.6" fill="#000" stroke="#000" text-anchor="start" textLength="55" lengthAdjust="spacingAndGlyphs" >(CET/CEST)</text>
<polyline points="68.5,16.5 133,16.5 157,48" fill="none" stroke="#000" stroke-width="1" stroke-linejoin="round" />
<text x="6" y="46" font-size="10.6" fill="#a52a2a" stroke="#a52a2a" text-anchor="start" textLength="93.5" lengthAdjust="spacingAndGlyphs" >Temperatura gruntu</text>
<text x="27.3" y="56" font-size="10.6" fill="#a52a2a" stroke="#a52a2a" text-anchor="start" textLength="39" lengthAdjust="spacingAndGlyphs" >max/min</text>
<polyline points="102.5,44.5 119.5,44.5 150,84" fill="none" stroke="#a52a2a" stroke-width="1" stroke-linejoin="round" />
<text x="5.2" y="67.5" font-size="10.6" fill="#000" stroke="#000" text-anchor="start" textLength="62" lengthAdjust="spacingAndGlyphs" >Temperatura:</text>
<text x="12.8" y="79.5" font-size="10.6" fill="#ff0000" stroke="#ff0000" text-anchor="start" textLength="77" lengthAdjust="spacingAndGlyphs" >punkt środkowy</text>
<polyline points="92,77.5 114.5,77.5" fill="none" stroke="#ff0000" stroke-width="1" stroke-linejoin="round" />
<polyline points="130.5,77.5 133,77.5 152,101" fill="none" stroke="#ff0000" stroke-width="1" stroke-linejoin="round" />
<text x="27.3" y="89.8" font-size="10.6" fill="#ffd8cc" stroke="#ffd8cc" text-anchor="start" textLength="39" lengthAdjust="spacingAndGlyphs" >max/min</text>
<text x="9.7" y="102" font-size="10.6" fill="#0000ff" stroke="#0000ff" text-anchor="start" textLength="57.5" lengthAdjust="spacingAndGlyphs" >odczuwana</text>
<polyline points="70,99.5 131,99.5 137,102.5" fill="none" stroke="#0000ff" stroke-width="1" stroke-linejoin="round" />
<text x="27.3" y="111.3" font-size="10.6" fill="#a8dcff" stroke="#a8dcff" text-anchor="start" textLength="39" lengthAdjust="spacingAndGlyphs" >max/min</text>
<text x="6" y="123" font-size="10.6" fill="#6a5acd" stroke="#6a5acd" text-anchor="start" textLength="87.5" lengthAdjust="spacingAndGlyphs" >Temp. punktu rosy</text>
<polyline points="95.5,120.5 131,120.5 134,118.5 141,113.5" fill="none" stroke="#6a5acd" stroke-width="1" stroke-linejoin="round" />
<text x="6" y="140.5" font-size="10.6" fill="#ff0000" stroke="#ff0000" text-anchor="start" textLength="94" lengthAdjust="spacingAndGlyphs" >Opad powyżej skali</text>
<polyline points="103,136.5 141,136.5 146,147" fill="none" stroke="#ff0000" stroke-width="1" stroke-linejoin="round" />
<text x="6" y="154.6" font-size="10.6" fill="#e8501a" stroke="#e8501a" text-anchor="start" textLength="97.5" lengthAdjust="spacingAndGlyphs" >Wilgotność względna</text>
<polyline points="106,150.5 112,150.5" fill="none" stroke="#e8501a" stroke-width="1" stroke-linejoin="round" />
<polyline points="130,150.5 133,151 147,160" fill="none" stroke="#e8501a" stroke-width="1" stroke-linejoin="round" />
<text x="6" y="169" font-size="10.6" fill="#000" stroke="#000" text-anchor="start" textLength="84.5" lengthAdjust="spacingAndGlyphs" >Wystąpienie burzy</text>
<polyline points="94,166.5 112.5,166.5" fill="none" stroke="#000" stroke-width="1" stroke-linejoin="round" />
<polyline points="129.5,166.5 132,167 137,172" fill="none" stroke="#000" stroke-width="1" stroke-linejoin="round" />
<text x="6" y="182.5" font-size="10.6" fill="#00a800" stroke="#00a800" text-anchor="start" textLength="63.5" lengthAdjust="spacingAndGlyphs" >Deszcz: max</text>
<polyline points="71,179.5 139.5,179.5" fill="none" stroke="#00a800" stroke-width="1" stroke-linejoin="round" />
<text x="49.5" y="193" font-size="10.6" fill="#00a800" stroke="#00a800" text-anchor="start" textLength="29" lengthAdjust="spacingAndGlyphs" >średni</text>
<polyline points="80,190.5 136,190.5" fill="none" stroke="#00a800" stroke-width="1" stroke-linejoin="round" />
<text x="6" y="204" font-size="10.6" fill="#1030d0" stroke="#1030d0" text-anchor="start" textLength="29.5" lengthAdjust="spacingAndGlyphs" >Śnieg:</text>
<text x="49.5" y="204" font-size="10.6" fill="#1030d0" stroke="#1030d0" text-anchor="start" textLength="19" lengthAdjust="spacingAndGlyphs" >max</text>
<polyline points="70,202.5 112,202.5" fill="none" stroke="#1030d0" stroke-width="1" stroke-linejoin="round" />
<polyline points="129.5,202.5 132,202.5 160.5,173.5" fill="none" stroke="#1030d0" stroke-width="1" stroke-linejoin="round" />
<text x="49.5" y="215" font-size="10.6" fill="#1030d0" stroke="#1030d0" text-anchor="start" textLength="29" lengthAdjust="spacingAndGlyphs" >średni</text>
<polyline points="81,213.5 131.5,213.5 158,187.5" fill="none" stroke="#1030d0" stroke-width="1" stroke-linejoin="round" />
<text x="5.5" y="227.7" font-size="10.6" fill="#ff0000" stroke="#ff0000" text-anchor="start" textLength="89" lengthAdjust="spacingAndGlyphs" >Wystąpienie opadu</text>
<polyline points="97,225.5 144.5,225.5 147.5,219.5" fill="none" stroke="#ff0000" stroke-width="1" stroke-linejoin="round" />
<text x="5.5" y="240.5" font-size="10.6" fill="#ff0000" stroke="#ff0000" text-anchor="start" textLength="72" lengthAdjust="spacingAndGlyphs" >konwekcyjnego</text>
<text x="5" y="266.6" font-size="10.6" fill="#000" stroke="#000" text-anchor="start" textLength="42" lengthAdjust="spacingAndGlyphs" >Ciśnienie</text>
<polyline points="51,264.5 131,264.5 136,262" fill="none" stroke="#000" stroke-width="1" stroke-linejoin="round" />
<text x="5" y="279.4" font-size="10.6" fill="#000" stroke="#000" text-anchor="start" textLength="66" lengthAdjust="spacingAndGlyphs" >zredukowane</text>
<text x="5" y="292.2" font-size="10.6" fill="#000" stroke="#000" text-anchor="start" textLength="87.5" lengthAdjust="spacingAndGlyphs" >do poziomu morza</text>
<text x="5" y="321.3" font-size="10.6" fill="#000" stroke="#000">Wiatr na <tspan font-family="'Liberation Serif', serif" font-size="11.5">10</tspan>m:</text>
<text x="9.9" y="337.6" font-size="10.6" fill="#ff0000" stroke="#ff0000" text-anchor="start" textLength="100.5" lengthAdjust="spacingAndGlyphs" >poryw powyżej skali</text>
<polyline points="112,334.5 117.5,334.5" fill="none" stroke="#ff0000" stroke-width="1" stroke-linejoin="round" />
<polyline points="130,334.5 132,333 138.5,318" fill="none" stroke="#ff0000" stroke-width="1" stroke-linejoin="round" />
<text x="9.9" y="351.2" font-size="10.6" fill="#ff0000" stroke="#ff0000" text-anchor="start" textLength="94.5" lengthAdjust="spacingAndGlyphs" >max porywy wiatru</text>
<polyline points="107,348.5 131.5,348.5 136,346 142,340.5" fill="none" stroke="#ff0000" stroke-width="1" stroke-linejoin="round" />
<text x="9.9" y="370.9" font-size="10.6" fill="#00009c" stroke="#00009c" text-anchor="start" textLength="78.5" lengthAdjust="spacingAndGlyphs" >prędkość wiatru</text>
<polyline points="92,367.5 137,367.5" fill="none" stroke="#00009c" stroke-width="1" stroke-linejoin="round" />
<text x="9.9" y="384.5" font-size="10.6" fill="#00009c" stroke="#00009c" text-anchor="start" textLength="88.5" lengthAdjust="spacingAndGlyphs" >w środku obszaru</text>
<text x="9.9" y="412.3" font-size="10.6" fill="#00009c" stroke="#00009c" text-anchor="start" textLength="74" lengthAdjust="spacingAndGlyphs" >kierunek wiatru</text>
<polyline points="86,410.5 140,410.5" fill="none" stroke="#00009c" stroke-width="1" stroke-linejoin="round" />
<text x="6" y="432.4" font-size="10.6" fill="#b22222" stroke="#b22222" text-anchor="start" textLength="90.5" lengthAdjust="spacingAndGlyphs" >Wierzchołek chmur</text>
<polyline points="100,430.5 135,430.5 140,432 185,449" fill="none" stroke="#b22222" stroke-width="1" stroke-linejoin="round" />
<text x="6" y="447.3" font-size="10.6" fill="#000" stroke="#000" text-anchor="start" textLength="85.5" lengthAdjust="spacingAndGlyphs" >Podstawa chmur*</text>
<text x="6" y="458.4" font-size="10.6" fill="#000" stroke="#000" text-anchor="start" textLength="47" lengthAdjust="spacingAndGlyphs" >o pokryciu</text>
<text x="10.6" y="471.4" font-size="10.6" fill="#000" stroke="#000" text-anchor="start" textLength="43.7" lengthAdjust="spacingAndGlyphs" >&gt; 7.9 okt.</text>
<polyline points="57,468.5 132,468.5 191.5,456.5" fill="none" stroke="#000" stroke-width="1" stroke-linejoin="round" />
<text x="10.6" y="482.3" font-size="10.6" fill="#505050" stroke="#505050" text-anchor="start" textLength="43.7" lengthAdjust="spacingAndGlyphs" >&gt; 6.5 okt.</text>
<polyline points="57,480.5 143,480.5" fill="none" stroke="#505050" stroke-width="1" stroke-linejoin="round" />
<text x="10.6" y="493.6" font-size="10.6" fill="#959595" stroke="#959595" text-anchor="start" textLength="43.7" lengthAdjust="spacingAndGlyphs" >&gt; 4.5 okt.</text>
<polyline points="57,490.5 131,490.5 143,500" fill="none" stroke="#959595" stroke-width="1" stroke-linejoin="round" />
<text x="10.6" y="503.6" font-size="10.6" fill="#dcdcd4" stroke="#dcdcd4" text-anchor="start" textLength="43.7" lengthAdjust="spacingAndGlyphs" >&gt; 2.5 okt.</text>
<polyline points="57,500.5 133,500.5 137,505" fill="none" stroke="#dcdcd4" stroke-width="1" stroke-linejoin="round" />
<rect x="11" y="505.3" width="44" height="11.5" fill="#80ccff" />
<text x="10.6" y="514.2" font-size="10.6" fill="#ffffff" stroke="#ffffff" text-anchor="start" textLength="43.7" lengthAdjust="spacingAndGlyphs" >&gt; 0.1 okt.</text>
<polyline points="57,509.5 136,509.5" fill="none" stroke="#80ccff" stroke-width="1" stroke-linejoin="round" />
<polyline points="57,512.5 136,512.5" fill="none" stroke="#80ccff" stroke-width="1" stroke-linejoin="round" />
<text x="6" y="529.1" font-size="10.6" fill="#ff8800" stroke="#ff8800" text-anchor="start" textLength="57.5" lengthAdjust="spacingAndGlyphs" >Widzialność</text>
<polyline points="67,526.5 130,526.5 140,512 173.5,464.5" fill="none" stroke="#ff8800" stroke-width="1" stroke-linejoin="round" />
<text x="6" y="546.2" font-size="10.6" fill="#000" stroke="#000" text-anchor="start" textLength="38.5" lengthAdjust="spacingAndGlyphs" >Chmury:</text>
<rect x="10" y="551.3" width="41" height="11.2" fill="#80ccff" />
<text x="10.5" y="560.3" font-size="10.6" fill="#ffffff" stroke="#ffffff" text-anchor="start" textLength="40" lengthAdjust="spacingAndGlyphs" >wysokie</text>
<polyline points="54,556.5 192,556.5" fill="none" stroke="#a0dcff" stroke-width="1" stroke-linejoin="round" />
<polyline points="54,559.5 192,559.5" fill="none" stroke="#a0dcff" stroke-width="1" stroke-linejoin="round" />
<text x="9.9" y="572.7" font-size="10.6" fill="#a0a0a0" stroke="#a0a0a0" text-anchor="start" textLength="35.5" lengthAdjust="spacingAndGlyphs" >średnie</text>
<polyline points="49,571.5 192,571.5" fill="none" stroke="#808080" stroke-width="1" stroke-linejoin="round" />
<text x="9.9" y="584.6" font-size="10.6" fill="#404040" stroke="#404040" text-anchor="start" textLength="26.5" lengthAdjust="spacingAndGlyphs" >niskie</text>
<polyline points="40,582.5 122,582.5" fill="none" stroke="#404040" stroke-width="1" stroke-linejoin="round" />
<polyline points="130,582.5 150,582.5" fill="none" stroke="#404040" stroke-width="1" stroke-linejoin="round" />
<text x="9.9" y="596" font-size="10.6" fill="#202020" stroke="#202020" text-anchor="start" textLength="61.5" lengthAdjust="spacingAndGlyphs" >bardzo niskie</text>
<polyline points="74,594.5 142,594.5 147,598" fill="none" stroke="#202020" stroke-width="1" stroke-linejoin="round" />
<text x="6" y="607.5" font-size="10.6" fill="#ffb400" stroke="#ffb400" text-anchor="start" textLength="20.5" lengthAdjust="spacingAndGlyphs" >Mgła</text>
<polyline points="30,605.5 217,605.5 218.5,600.5" fill="none" stroke="#ffb400" stroke-width="1" stroke-linejoin="round" />
<text x="6" y="626" font-size="11" fill="#000" stroke="#000" textLength="130.5" lengthAdjust="spacing">Czas uniwersalny (UTC)</text>
<polyline points="138,623.5 148,623.5 157,610" fill="none" stroke="#000" stroke-width="1" stroke-linejoin="round" />
<text x="5" y="650.5" font-size="9" fill="#000" stroke="#000" text-anchor="start" textLength="103.5" lengthAdjust="spacingAndGlyphs" style="stroke-width:0.4px">* powyżej poziomu morza</text>
</g>
</svg>
</body></html>
